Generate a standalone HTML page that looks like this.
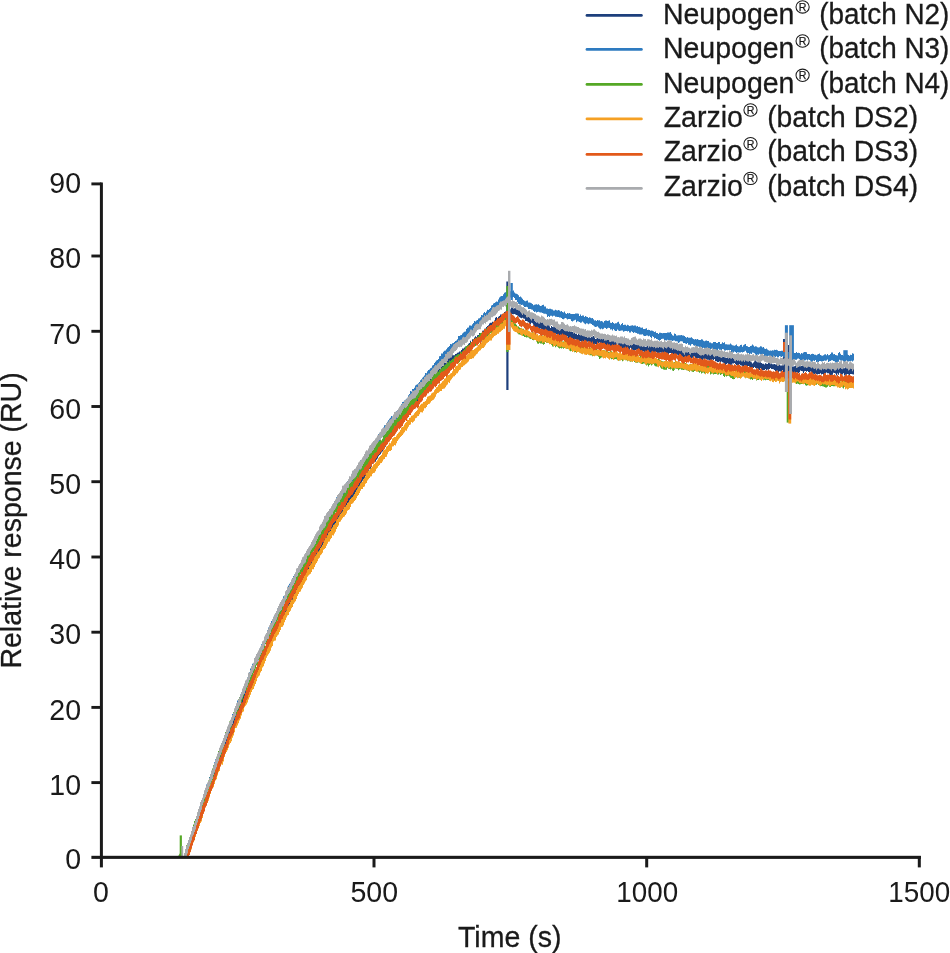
<!DOCTYPE html>
<html><head><meta charset="utf-8"><title>Chart</title>
<style>html,body{margin:0;padding:0;background:#fff;}body{width:950px;height:953px;position:relative;overflow:hidden;font-family:"Liberation Sans",sans-serif;}</style>
</head><body>
<svg width="950" height="953" viewBox="0 0 950 953" style="position:absolute;left:0;top:0;will-change:transform">
<g stroke="none">
<path fill="#1d3f7c" d="M185,855.2V855.2H186V851.8H187V846.6H188V846.2H189V841.7H190V839.4H191V836.9H192V832.6H193V829.1H194V827.4H195V824.0H196V820.0H197V817.2H198V814.1H199V811.5H200V808.6H201V805.9H202V803.1H203V800.3H204V797.7H205V794.6H206V789.8H207V788.7H208V786.4H209V783.2H210V779.5H211V776.6H212V774.3H213V772.0H214V769.0H215V766.7H216V763.8H217V761.5H218V758.7H219V756.1H220V754.8H221V750.7H222V748.2H223V744.5H224V742.0H225V739.9H226V737.9H227V734.7H228V732.5H229V730.5H230V728.0H231V726.3H232V724.1H233V719.6H234V718.2H235V715.5H236V712.6H237V710.1H238V706.9H239V706.1H240V703.5H241V700.2H242V697.3H243V695.1H244V692.9H245V690.9H246V689.5H247V687.5H248V684.9H249V683.4H250V681.0H251V678.0H252V675.1H253V674.5H254V671.3H255V670.4H256V668.0H257V665.2H258V662.8H259V659.8H260V657.2H261V655.2H262V654.7H263V651.3H264V647.0H265V646.3H266V643.8H267V643.3H268V641.3H269V638.3H270V636.3H271V634.5H272V632.3H273V631.3H274V628.5H275V626.2H276V624.4H277V621.7H278V620.6H279V618.3H280V616.3H281V614.2H282V611.4H283V608.6H284V607.3H285V606.4H286V605.0H287V602.1H288V600.0H289V598.9H290V598.0H291V595.9H292V593.2H293V589.5H294V589.4H295V587.7H296V585.5H297V582.1H298V581.5H299V578.6H300V577.6H301V576.3H302V574.5H303V571.8H304V569.5H305V567.9H306V566.6H307V564.9H308V562.0H309V560.0H310V559.1H311V557.3H312V556.5H313V554.2H314V552.8H315V549.9H316V548.2H317V546.4H318V544.0H319V542.8H320V541.6H321V538.9H322V537.0H323V535.5H324V534.4H325V532.4H326V530.5H327V529.2H328V528.0H329V527.1H330V525.2H331V523.1H332V522.1H333V520.6H334V519.3H335V517.9H336V516.3H337V513.6H338V511.7H339V510.5H340V508.7H341V507.2H342V506.5H343V504.4H344V502.6H345V500.9H346V499.5H347V497.4H348V496.0H349V496.3H350V494.3H351V492.6H352V490.4H353V488.8H354V485.8H355V483.8H356V482.7H357V481.7H358V479.5H359V478.1H360V475.7H361V474.7H362V472.2H363V470.2H364V469.4H365V467.0H366V465.9H367V464.4H368V462.4H369V461.4H370V460.6H371V459.1H372V456.6H373V455.2H374V454.0H375V453.6H376V450.9H377V450.1H378V448.9H379V446.7H380V446.3H381V444.5H382V443.1H383V441.6H384V439.9H385V437.6H386V436.9H387V435.1H388V433.7H389V431.8H390V430.8H391V428.5H392V427.2H393V425.0H394V424.9H395V422.9H396V421.4H397V421.0H398V419.1H399V417.2H400V416.6H401V414.0H402V412.9H403V411.2H404V411.1H405V409.2H406V407.4H407V405.1H408V405.1H409V403.7H410V402.8H411V401.1H412V400.9H413V396.9H414V397.2H415V396.1H416V393.2H417V392.3H418V392.4H419V390.6H420V387.3H421V386.6H422V385.0H423V383.8H424V383.5H425V384.6H426V382.3H427V380.8H428V379.6H429V379.1H430V378.3H431V375.8H432V376.1H433V374.7H434V373.8H435V372.4H436V372.3H437V370.7H438V369.4H439V368.6H440V368.0H441V366.3H442V365.7H443V364.3H444V362.9H445V362.9H446V361.5H447V360.5H448V358.0H449V357.0H450V356.7H451V355.9H452V355.0H453V355.3H454V355.3H455V353.9H456V353.8H457V352.7H458V352.4H459V351.5H460V351.6H461V350.0H462V348.6H463V348.5H464V347.6H465V346.5H466V346.1H467V345.3H468V343.8H469V343.0H470V340.8H471V342.5H472V339.3H473V339.1H474V337.5H475V336.3H476V336.9H477V335.3H478V334.9H479V333.0H480V333.8H481V333.9H482V330.7H483V330.4H484V328.8H485V328.6H486V326.9H487V325.9H488V325.2H489V323.5H490V322.8H491V322.8H492V321.7H493V322.4H494V320.4H495V317.8H496V317.1H497V317.9H498V316.8H499V316.0H500V314.6H501V314.4H502V314.9H503V314.2H504V311.9H505V311.4H506V310.5H507V310.5H508V310.2H509V309.5H510V309.2H511V307.4H512V307.4H513V307.0H514V308.2H515V307.9H516V307.7H517V308.4H518V310.0H519V309.7H520V311.4H521V311.1H522V310.7H523V311.5H524V312.8H525V313.0H526V313.1H527V314.5H528V316.6H529V317.2H530V317.2H531V316.4H532V317.1H533V318.9H534V321.1H535V321.4H536V322.4H537V320.8H538V320.3H539V320.5H540V321.1H541V322.8H542V322.2H543V323.6H544V322.7H545V323.7H546V324.0H547V324.4H548V325.3H549V326.2H550V328.0H551V326.0H552V327.0H553V327.1H554V326.1H555V326.8H556V327.4H557V328.0H558V329.4H559V328.0H560V328.7H561V329.0H562V328.6H563V329.4H564V330.4H565V329.3H566V330.2H567V329.6H568V331.5H569V330.4H570V330.7H571V331.4H572V332.0H573V333.3H574V332.4H575V333.7H576V333.7H577V334.9H578V333.9H579V334.7H580V333.7H581V334.4H582V334.3H583V335.0H584V335.0H585V334.9H586V334.9H587V336.4H588V337.1H589V336.8H590V337.8H591V337.1H592V336.6H593V336.1H594V337.3H595V339.1H596V337.8H597V337.7H598V338.4H599V338.6H600V336.8H601V337.4H602V337.8H603V337.3H604V338.6H605V338.3H606V339.3H607V339.8H608V339.2H609V339.8H610V339.8H611V339.6H612V339.5H613V338.5H614V340.8H615V341.2H616V340.9H617V340.2H618V339.9H619V341.3H620V341.6H621V340.3H622V340.9H623V341.5H624V342.1H625V342.0H626V342.7H627V342.5H628V342.6H629V341.6H630V341.3H631V342.4H632V343.8H633V343.5H634V344.1H635V344.4H636V343.2H637V342.3H638V342.8H639V343.8H640V344.9H641V345.3H642V345.8H643V344.3H644V344.2H645V346.8H646V345.7H647V345.5H648V345.6H649V344.1H650V345.8H651V346.2H652V346.8H653V346.3H654V346.4H655V346.0H656V345.5H657V345.8H658V345.4H659V345.7H660V345.8H661V345.3H662V346.0H663V345.7H664V345.2H665V345.6H666V347.5H667V345.9H668V346.3H669V346.7H670V346.1H671V346.8H672V347.4H673V346.5H674V347.2H675V348.2H676V348.1H677V348.3H678V349.7H679V348.9H680V349.1H681V349.5H682V349.8H683V351.0H684V350.9H685V350.6H686V351.4H687V351.3H688V351.8H689V350.9H690V351.4H691V352.4H692V351.9H693V352.6H694V352.2H695V352.5H696V352.0H697V351.8H698V351.8H699V352.1H700V352.3H701V352.9H702V353.0H703V352.3H704V352.4H705V351.5H706V352.0H707V353.5H708V353.9H709V353.8H710V355.4H711V354.3H712V353.4H713V353.7H714V354.6H715V354.7H716V353.6H717V354.9H718V354.5H719V356.0H720V354.6H721V355.5H722V355.4H723V356.7H724V356.8H725V357.5H726V358.0H727V357.2H728V358.3H729V357.4H730V357.2H731V357.6H732V357.4H733V357.4H734V358.1H735V357.6H736V357.6H737V358.8H738V360.2H739V359.6H740V359.8H741V360.4H742V359.1H743V358.9H744V357.4H745V358.4H746V359.5H747V358.5H748V358.5H749V359.8H750V360.7H751V362.3H752V363.4H753V362.5H754V360.5H755V359.4H756V361.4H757V362.3H758V361.8H759V362.3H760V361.7H761V362.9H762V363.7H763V363.7H764V364.4H765V363.2H766V363.7H767V363.9H768V363.0H769V361.8H770V361.6H771V363.4H772V364.2H773V364.2H774V363.9H775V364.5H776V363.7H777V364.8H778V365.3H779V364.5H780V365.4H781V365.4H782V363.5H783V365.1H784V364.4H785V365.2H786V367.3H787V366.2H788V365.7H789V366.3H790V366.3H791V365.7H792V366.5H793V366.4H794V366.2H795V365.7H796V364.9H797V364.7H798V366.6H799V366.2H800V364.6H801V365.9H802V364.9H803V366.0H804V366.1H805V365.4H806V363.7H807V365.7H808V365.6H809V366.6H810V366.1H811V366.4H812V367.1H813V366.3H814V366.6H815V366.8H816V366.7H817V368.1H818V366.7H819V367.1H820V367.0H821V367.4H822V367.5H823V368.0H824V368.8H825V367.4H826V366.1H827V366.7H828V365.9H829V367.4H830V368.0H831V368.6H832V367.3H833V365.6H834V366.6H835V366.9H836V366.2H837V365.4H838V367.1H839V367.1H840V367.4H841V368.6H842V367.7H843V367.0H844V368.2H845V367.2H846V368.1H847V367.5H848V367.6H849V367.7H850V367.0H851V367.3H852V367.4H853V366.9H854V374.4V374.4H853V374.2H852V374.0H851V373.9H850V374.9H849V374.5H848V374.1H847V374.8H846V374.7H845V375.6H844V373.2H843V374.5H842V375.2H841V373.8H840V372.7H839V374.8H838V373.5H837V375.4H836V373.4H835V373.1H834V372.8H833V374.7H832V376.2H831V375.2H830V373.9H829V373.2H828V373.3H827V372.6H826V373.5H825V374.7H824V375.1H823V374.0H822V374.6H821V373.2H820V374.0H819V374.0H818V374.6H817V374.0H816V373.4H815V373.9H814V373.8H813V373.5H812V373.3H811V371.5H810V373.2H809V372.0H808V370.9H807V371.8H806V371.1H805V371.2H804V372.9H803V371.2H802V371.0H801V370.6H800V372.3H799V372.9H798V372.5H797V372.4H796V373.0H795V373.5H794V373.6H793V374.5H792V373.4H791V372.4H790V372.5H789V371.3H788V373.2H787V373.0H786V371.6H785V372.0H784V371.9H783V369.9H782V371.0H781V371.6H780V371.2H779V372.7H778V370.8H777V371.5H776V370.9H775V370.1H774V369.2H773V369.1H772V368.9H771V368.1H770V369.0H769V369.7H768V369.4H767V370.2H766V369.0H765V370.0H764V370.1H763V370.2H762V369.7H761V367.9H760V370.1H759V369.7H758V368.6H757V368.7H756V367.9H755V367.0H754V367.9H753V368.7H752V368.6H751V368.6H750V367.4H749V365.9H748V366.5H747V366.1H746V365.7H745V365.4H744V366.3H743V366.4H742V365.6H741V365.2H740V364.2H739V365.5H738V365.3H737V365.3H736V364.1H735V363.0H734V363.6H733V363.4H732V364.7H731V365.6H730V364.0H729V364.1H728V363.3H727V363.9H726V365.0H725V363.7H724V362.7H723V362.3H722V361.5H721V362.5H720V361.5H719V362.0H718V361.9H717V361.2H716V361.0H715V359.0H714V360.1H713V359.5H712V360.3H711V361.0H710V360.5H709V359.7H708V359.7H707V359.2H706V358.7H705V359.0H704V358.8H703V360.5H702V360.3H701V360.7H700V358.8H699V358.0H698V358.5H697V358.2H696V358.9H695V356.5H694V358.2H693V357.8H692V357.9H691V358.3H690V357.9H689V357.7H688V359.0H687V358.8H686V357.8H685V357.2H684V357.1H683V356.7H682V356.1H681V356.4H680V355.5H679V356.2H678V354.8H677V355.2H676V354.9H675V354.3H674V354.4H673V355.0H672V353.4H671V353.0H670V352.9H669V354.1H668V353.7H667V353.7H666V353.1H665V353.3H664V352.8H663V352.3H662V352.7H661V352.6H660V352.7H659V353.2H658V353.5H657V352.2H656V351.9H655V352.3H654V352.4H653V352.4H652V352.6H651V352.8H650V352.3H649V352.2H648V352.1H647V351.9H646V352.7H645V352.6H644V351.4H643V351.6H642V352.1H641V351.7H640V350.4H639V349.5H638V349.5H637V349.8H636V350.3H635V350.8H634V350.2H633V349.8H632V350.6H631V347.8H630V349.8H629V349.4H628V348.9H627V348.3H626V349.4H625V349.6H624V349.0H623V348.9H622V348.2H621V347.9H620V347.3H619V346.9H618V347.0H617V346.3H616V346.5H615V346.3H614V346.2H613V345.7H612V346.8H611V346.1H610V347.1H609V346.6H608V346.5H607V345.8H606V345.2H605V344.7H604V343.9H603V344.1H602V344.1H601V344.5H600V342.6H599V343.1H598V343.9H597V344.6H596V344.2H595V343.9H594V343.9H593V344.4H592V345.1H591V344.1H590V344.2H589V343.1H588V341.8H587V342.9H586V343.5H585V342.8H584V341.5H583V341.7H582V341.8H581V341.2H580V341.4H579V340.4H578V340.7H577V340.7H576V339.4H575V339.9H574V339.5H573V338.6H572V337.9H571V337.8H570V338.4H569V338.8H568V336.5H567V337.1H566V336.6H565V337.1H564V335.5H563V334.4H562V335.3H561V334.7H560V335.6H559V334.6H558V335.1H557V334.5H556V334.0H555V333.5H554V334.4H553V333.1H552V333.3H551V333.4H550V332.0H549V332.5H548V331.8H547V330.7H546V330.4H545V330.2H544V330.7H543V330.7H542V329.1H541V328.5H540V328.9H539V327.8H538V327.4H537V328.6H536V327.2H535V326.7H534V324.8H533V323.3H532V322.8H531V324.1H530V323.3H529V322.2H528V321.5H527V320.9H526V320.9H525V318.8H524V318.6H523V317.7H522V318.3H521V317.7H520V317.2H519V316.4H518V315.5H517V314.9H516V314.4H515V313.9H514V314.3H513V314.3H512V314.7H511V314.5H510V316.1H509V315.8H508V316.2H507V318.1H506V319.3H505V320.2H504V321.5H503V322.5H502V323.2H501V323.3H500V323.4H499V323.8H498V324.1H497V324.8H496V325.7H495V328.2H494V329.8H493V328.6H492V329.8H491V330.2H490V330.7H489V333.3H488V334.1H487V335.0H486V336.4H485V336.4H484V337.9H483V338.7H482V341.5H481V339.3H480V340.5H479V342.5H478V342.0H477V344.2H476V344.2H475V345.8H474V346.0H473V347.1H472V348.9H471V349.0H470V350.3H469V351.8H468V353.7H467V353.1H466V354.1H465V355.2H464V355.7H463V355.6H462V356.9H461V358.1H460V358.7H459V360.5H458V359.6H457V360.4H456V362.2H455V362.3H454V362.8H453V364.3H452V364.1H451V363.3H450V365.4H449V367.2H448V368.3H447V368.2H446V369.7H445V369.6H444V370.8H443V371.9H442V373.8H441V375.0H440V374.5H439V376.1H438V378.1H437V378.0H436V380.7H435V382.2H434V383.5H433V382.7H432V383.6H431V386.3H430V386.3H429V387.0H428V388.9H427V389.8H426V391.9H425V391.9H424V392.7H423V393.8H422V396.1H421V395.8H420V398.1H419V400.6H418V401.8H417V404.0H416V404.2H415V404.3H414V405.5H413V407.9H412V409.5H411V411.0H410V412.6H409V412.2H408V413.8H407V414.9H406V417.7H405V419.7H404V420.3H403V421.4H402V421.5H401V423.9H400V425.2H399V426.6H398V427.2H397V429.9H396V432.4H395V434.1H394V434.2H393V435.6H392V437.3H391V438.5H390V439.7H389V441.5H388V443.7H387V444.1H386V446.7H385V448.2H384V449.4H383V451.5H382V452.4H381V454.2H380V454.9H379V456.3H378V458.5H377V459.7H376V461.8H375V461.8H374V462.6H373V463.8H372V466.7H371V469.0H370V469.2H369V471.1H368V474.0H367V474.8H366V476.0H365V478.5H364V479.6H363V480.8H362V483.2H361V484.8H360V486.3H359V488.1H358V488.8H357V490.7H356V492.6H355V494.2H354V496.1H353V498.1H352V499.8H351V501.9H350V501.6H349V504.7H348V504.9H347V507.2H346V509.1H345V510.4H344V512.6H343V514.1H342V515.6H341V517.5H340V517.9H339V519.7H338V522.0H337V525.9H336V526.9H335V527.0H334V527.9H333V530.0H332V530.8H331V535.2H330V534.9H329V535.1H328V537.9H327V538.5H326V541.0H325V543.3H324V544.6H323V546.3H322V547.8H321V549.7H320V551.4H319V553.1H318V555.3H317V557.8H316V559.4H315V560.9H314V562.5H313V563.9H312V565.7H311V568.5H310V568.2H309V570.7H308V573.8H307V574.4H306V577.2H305V579.4H304V580.8H303V581.9H302V583.9H301V585.7H300V586.6H299V590.0H298V591.9H297V594.8H296V595.6H295V597.7H294V598.7H293V601.1H292V603.5H291V604.8H290V607.0H289V608.7H288V610.1H287V612.4H286V614.6H285V616.4H284V617.6H283V620.2H282V622.4H281V624.8H280V626.8H279V629.1H278V631.4H277V633.0H276V634.9H275V636.4H274V639.2H273V642.5H272V643.6H271V645.4H270V648.0H269V650.5H268V652.3H267V653.1H266V654.3H265V657.4H264V659.7H263V662.4H262V663.2H261V665.9H260V668.7H259V669.5H258V673.8H257V675.0H256V677.9H255V679.9H254V683.1H253V685.5H252V686.4H251V688.6H250V691.9H249V694.2H248V695.8H247V697.3H246V700.1H245V702.4H244V704.8H243V706.7H242V709.6H241V712.0H240V714.5H239V717.5H238V719.8H237V722.1H236V723.7H235V726.4H234V729.0H233V732.1H232V735.0H231V737.4H230V740.1H229V742.0H228V743.9H227V747.4H226V748.8H225V750.7H224V754.7H223V756.3H222V760.0H221V764.0H220V765.4H219V767.6H218V770.2H217V775.3H216V776.9H215V779.4H214V781.3H213V784.1H212V787.2H211V788.5H210V792.2H209V795.4H208V797.4H207V800.0H206V803.1H205V806.0H204V808.0H203V811.1H202V815.6H201V817.7H200V820.7H199V824.1H198V827.3H197V830.0H196V833.5H195V836.1H194V839.4H193V842.7H192V846.4H191V848.4H190V851.9H189V855.3H188V857.0H187V857.0H186V857.0H185Z"/>
<rect x="506.3" y="281.5" width="2.2" height="108.5" fill="#1d3f7c"/>
<rect x="783.0" y="339" width="2.0" height="33.0" fill="#1d3f7c"/>
<rect x="787.8" y="345" width="1.4" height="27.0" fill="#1d3f7c"/>
<path fill="#2e7bc0" d="M184,854.9V854.9H185V851.2H186V848.6H187V844.2H188V842.1H189V837.1H190V835.2H191V831.8H192V828.5H193V825.1H194V822.1H195V819.5H196V816.6H197V812.9H198V809.6H199V806.8H200V803.2H201V801.2H202V797.9H203V794.6H204V790.9H205V788.9H206V784.4H207V783.9H208V781.3H209V777.1H210V774.2H211V772.7H212V769.4H213V765.6H214V762.3H215V759.2H216V757.9H217V755.3H218V752.0H219V749.9H220V746.7H221V743.7H222V741.2H223V738.9H224V736.8H225V732.9H226V730.2H227V728.7H228V727.0H229V722.8H230V721.4H231V719.0H232V714.1H233V712.7H234V708.7H235V707.1H236V703.9H237V700.6H238V700.2H239V697.3H240V694.5H241V692.5H242V690.0H243V687.2H244V684.3H245V682.8H246V680.1H247V677.6H248V674.5H249V672.2H250V668.5H251V666.6H252V663.8H253V663.5H254V660.1H255V658.0H256V655.6H257V653.8H258V651.5H259V648.7H260V648.1H261V644.3H262V642.5H263V642.6H264V638.0H265V636.3H266V633.3H267V630.2H268V627.5H269V626.8H270V623.4H271V621.1H272V619.6H273V616.8H274V615.2H275V613.2H276V610.9H277V608.4H278V606.3H279V605.2H280V602.2H281V601.8H282V599.6H283V596.3H284V596.1H285V592.5H286V589.9H287V588.9H288V585.6H289V583.8H290V582.5H291V580.3H292V578.0H293V576.1H294V574.5H295V573.1H296V570.5H297V568.1H298V567.3H299V565.2H300V563.0H301V562.0H302V558.8H303V557.4H304V555.9H305V553.8H306V551.9H307V550.6H308V549.2H309V548.0H310V545.6H311V543.6H312V542.2H313V538.9H314V538.1H315V535.6H316V534.5H317V533.0H318V531.5H319V528.9H320V526.9H321V524.9H322V523.8H323V521.6H324V519.6H325V517.2H326V515.0H327V511.9H328V512.0H329V511.2H330V509.2H331V508.9H332V506.1H333V504.2H334V501.3H335V500.0H336V497.3H337V494.9H338V494.7H339V495.3H340V492.7H341V491.5H342V488.8H343V487.9H344V486.2H345V484.1H346V482.2H347V480.9H348V479.7H349V478.5H350V477.7H351V474.4H352V472.0H353V471.0H354V469.6H355V469.3H356V468.0H357V465.2H358V465.2H359V462.6H360V460.2H361V460.2H362V458.9H363V456.8H364V454.2H365V453.8H366V452.4H367V451.1H368V450.4H369V448.5H370V447.8H371V446.5H372V444.6H373V444.3H374V442.0H375V440.5H376V438.6H377V436.0H378V433.9H379V432.7H380V432.1H381V430.6H382V429.9H383V427.5H384V425.3H385V425.0H386V423.9H387V421.7H388V420.2H389V418.8H390V417.7H391V415.9H392V416.4H393V415.9H394V414.2H395V412.8H396V411.3H397V410.2H398V409.6H399V407.7H400V405.7H401V404.3H402V402.1H403V401.8H404V400.5H405V399.7H406V398.8H407V398.1H408V395.2H409V393.9H410V391.1H411V391.4H412V389.1H413V389.1H414V387.7H415V385.4H416V384.8H417V384.3H418V383.2H419V382.1H420V380.3H421V379.3H422V377.7H423V376.7H424V375.4H425V373.0H426V373.3H427V371.3H428V369.9H429V369.6H430V368.3H431V367.7H432V365.4H433V364.9H434V362.9H435V361.7H436V360.5H437V359.9H438V359.0H439V356.3H440V356.1H441V353.5H442V353.5H443V351.7H444V350.7H445V350.6H446V349.3H447V347.8H448V347.1H449V345.9H450V343.9H451V344.2H452V343.2H453V343.0H454V341.9H455V341.0H456V340.4H457V339.2H458V336.0H459V336.1H460V335.2H461V335.0H462V333.6H463V332.5H464V331.7H465V331.5H466V329.1H467V327.8H468V327.5H469V325.5H470V325.5H471V325.8H472V324.2H473V322.9H474V321.1H475V321.4H476V320.5H477V320.1H478V318.4H479V318.2H480V317.2H481V315.0H482V315.3H483V313.2H484V312.0H485V312.9H486V311.4H487V309.8H488V309.9H489V309.0H490V308.1H491V305.6H492V305.0H493V303.5H494V303.0H495V302.3H496V301.6H497V301.7H498V299.4H499V297.5H500V296.5H501V296.0H502V296.0H503V294.2H504V292.7H505V292.2H506V291.6H507V291.1H508V291.0H509V290.4H510V291.2H511V291.7H512V291.2H513V290.5H514V292.6H515V293.4H516V293.8H517V294.2H518V295.2H519V297.1H520V296.5H521V297.4H522V298.8H523V299.9H524V300.8H525V301.3H526V300.8H527V300.4H528V302.4H529V302.5H530V302.7H531V303.3H532V303.9H533V305.3H534V304.8H535V304.5H536V304.3H537V304.8H538V304.3H539V305.3H540V305.9H541V305.8H542V305.1H543V304.8H544V306.6H545V306.4H546V308.6H547V308.5H548V309.0H549V308.7H550V308.8H551V309.2H552V309.4H553V310.5H554V310.6H555V309.7H556V310.3H557V310.5H558V309.9H559V310.5H560V311.5H561V311.1H562V312.1H563V312.4H564V311.4H565V313.3H566V313.9H567V313.0H568V313.5H569V313.1H570V313.7H571V314.0H572V314.1H573V314.1H574V313.9H575V313.4H576V313.4H577V313.5H578V313.7H579V315.9H580V314.5H581V315.9H582V315.6H583V315.5H584V317.0H585V315.9H586V316.7H587V317.1H588V318.0H589V317.2H590V317.7H591V318.2H592V318.0H593V319.2H594V320.4H595V320.2H596V321.0H597V320.0H598V320.5H599V320.3H600V321.3H601V320.9H602V321.6H603V322.5H604V321.0H605V320.5H606V320.6H607V320.9H608V320.7H609V320.3H610V322.8H611V322.9H612V322.1H613V323.1H614V323.8H615V323.2H616V323.2H617V322.2H618V321.8H619V323.7H620V325.2H621V323.9H622V323.0H623V324.9H624V324.8H625V324.8H626V325.8H627V324.8H628V325.2H629V326.0H630V325.7H631V325.6H632V325.3H633V325.7H634V325.4H635V325.5H636V326.4H637V325.9H638V327.0H639V326.8H640V327.5H641V327.7H642V327.5H643V329.0H644V329.0H645V328.8H646V328.2H647V329.9H648V329.7H649V329.9H650V330.8H651V330.6H652V330.8H653V331.2H654V332.1H655V331.5H656V332.9H657V333.0H658V333.9H659V332.7H660V332.7H661V333.1H662V333.2H663V333.0H664V333.1H665V333.0H666V333.0H667V332.4H668V332.6H669V332.4H670V332.1H671V333.7H672V335.2H673V335.7H674V333.5H675V334.0H676V335.5H677V335.4H678V335.3H679V335.2H680V335.2H681V334.9H682V335.5H683V335.5H684V336.0H685V337.1H686V337.8H687V337.0H688V337.7H689V337.8H690V337.7H691V337.3H692V338.2H693V338.9H694V339.5H695V339.1H696V339.6H697V339.0H698V339.8H699V340.0H700V340.0H701V339.3H702V339.5H703V340.8H704V341.2H705V340.7H706V340.5H707V341.0H708V341.0H709V342.4H710V342.6H711V343.2H712V343.2H713V342.0H714V341.9H715V341.9H716V342.9H717V343.1H718V342.0H719V341.9H720V344.0H721V343.7H722V342.3H723V343.0H724V342.3H725V344.2H726V344.2H727V344.5H728V344.5H729V344.5H730V343.6H731V344.4H732V345.3H733V345.4H734V345.7H735V345.2H736V344.6H737V346.0H738V346.6H739V346.3H740V345.0H741V344.7H742V346.7H743V345.3H744V344.6H745V344.1H746V346.1H747V346.2H748V346.9H749V346.9H750V345.9H751V345.7H752V344.5H753V345.5H754V346.8H755V346.3H756V346.5H757V347.2H758V347.6H759V347.3H760V346.3H761V346.5H762V347.4H763V346.9H764V348.6H765V349.0H766V348.5H767V349.4H768V350.3H769V350.8H770V350.6H771V350.7H772V350.2H773V350.6H774V349.8H775V350.1H776V349.7H777V350.2H778V351.0H779V351.0H780V351.0H781V350.8H782V350.7H783V350.7H784V352.0H785V351.8H786V351.2H787V351.3H788V351.9H789V351.6H790V352.3H791V352.3H792V352.7H793V352.6H794V353.1H795V353.0H796V352.1H797V353.0H798V352.7H799V352.9H800V354.3H801V353.0H802V353.5H803V352.5H804V352.1H805V351.9H806V352.3H807V354.0H808V354.0H809V353.9H810V354.7H811V354.0H812V353.7H813V353.9H814V354.7H815V354.7H816V355.3H817V354.4H818V354.1H819V353.4H820V355.1H821V355.4H822V355.8H823V355.2H824V354.5H825V354.2H826V355.2H827V354.1H828V355.3H829V355.0H830V354.0H831V352.4H832V352.4H833V354.2H834V354.0H835V355.0H836V355.3H837V355.6H838V353.0H839V352.1H840V353.8H841V355.0H842V355.0H843V355.7H844V355.3H845V354.0H846V355.3H847V354.6H848V355.1H849V355.8H850V354.8H851V354.9H852V353.3H853V353.8H854V360.5V360.5H853V361.4H852V360.8H851V361.3H850V361.3H849V361.4H848V361.1H847V360.6H846V361.4H845V362.4H844V361.9H843V360.6H842V360.7H841V360.4H840V359.7H839V361.7H838V362.5H837V362.3H836V362.4H835V361.2H834V360.9H833V360.2H832V360.3H831V361.0H830V361.3H829V361.9H828V359.6H827V360.4H826V360.8H825V360.6H824V361.0H823V361.3H822V361.6H821V360.9H820V361.1H819V362.1H818V362.0H817V362.0H816V360.1H815V361.0H814V360.5H813V360.9H812V361.7H811V360.7H810V360.1H809V359.5H808V360.4H807V359.5H806V360.2H805V360.4H804V359.8H803V360.7H802V360.1H801V360.7H800V359.2H799V358.6H798V358.7H797V359.8H796V359.8H795V360.4H794V360.8H793V357.4H792V358.5H791V359.5H790V358.7H789V358.0H788V358.2H787V358.2H786V358.5H785V357.5H784V357.2H783V356.3H782V357.1H781V356.5H780V356.1H779V357.2H778V357.2H777V356.3H776V357.3H775V356.5H774V358.1H773V358.6H772V357.6H771V356.8H770V356.7H769V355.8H768V356.7H767V356.0H766V356.4H765V356.1H764V353.9H763V354.0H762V354.5H761V354.6H760V353.7H759V354.8H758V354.5H757V354.9H756V354.6H755V353.3H754V352.8H753V352.6H752V353.9H751V353.5H750V353.9H749V353.0H748V353.0H747V352.5H746V350.7H745V351.6H744V352.0H743V352.6H742V351.9H741V352.6H740V352.5H739V352.5H738V352.3H737V352.9H736V351.9H735V351.5H734V352.4H733V352.5H732V352.0H731V350.0H730V350.2H729V349.9H728V350.2H727V350.1H726V350.6H725V350.5H724V349.2H723V349.1H722V350.5H721V349.7H720V349.8H719V348.8H718V350.7H717V350.2H716V349.5H715V349.4H714V349.2H713V349.1H712V348.7H711V348.9H710V348.8H709V348.3H708V347.7H707V348.0H706V348.9H705V349.0H704V347.7H703V348.5H702V347.1H701V346.9H700V347.5H699V346.6H698V346.4H697V346.0H696V345.7H695V345.7H694V345.3H693V344.1H692V344.3H691V345.8H690V344.8H689V344.8H688V343.0H687V344.0H686V343.5H685V343.0H684V343.1H683V341.4H682V341.3H681V341.2H680V342.2H679V342.9H678V341.4H677V341.3H676V341.3H675V340.4H674V340.6H673V340.9H672V340.5H671V340.5H670V340.2H669V340.2H668V339.8H667V340.5H666V340.2H665V340.0H664V338.7H663V338.8H662V338.9H661V339.9H660V340.8H659V340.0H658V339.2H657V339.0H656V338.1H655V338.4H654V337.0H653V336.3H652V338.0H651V336.9H650V335.7H649V336.2H648V335.6H647V335.6H646V336.0H645V336.1H644V335.4H643V334.2H642V334.6H641V334.6H640V334.4H639V333.8H638V333.8H637V332.9H636V332.7H635V332.3H634V332.9H633V332.1H632V331.3H631V332.6H630V332.4H629V331.0H628V331.4H627V331.0H626V331.0H625V331.2H624V331.8H623V330.6H622V330.6H621V330.8H620V330.9H619V330.4H618V329.5H617V330.9H616V330.9H615V330.3H614V328.9H613V330.6H612V329.2H611V329.4H610V328.0H609V327.8H608V328.3H607V329.0H606V328.0H605V327.7H604V328.8H603V329.3H602V328.6H601V329.2H600V328.4H599V327.6H598V326.3H597V326.8H596V327.1H595V326.6H594V325.6H593V324.9H592V324.1H591V323.5H590V323.4H589V324.3H588V323.4H587V323.2H586V324.3H585V323.6H584V322.4H583V321.6H582V322.5H581V322.8H580V322.1H579V321.5H578V321.2H577V322.2H576V319.7H575V320.3H574V320.7H573V321.4H572V320.9H571V319.3H570V318.9H569V318.9H568V319.5H567V318.5H566V318.1H565V318.6H564V319.2H563V319.0H562V318.1H561V317.5H560V317.5H559V317.0H558V317.0H557V316.7H556V316.7H555V315.7H554V315.7H553V316.4H552V315.7H551V315.7H550V317.1H549V316.0H548V317.1H547V314.3H546V313.7H545V313.7H544V313.5H543V312.9H542V312.6H541V312.4H540V312.2H539V311.8H538V311.9H537V312.4H536V311.6H535V312.0H534V310.9H533V309.7H532V309.5H531V308.9H530V309.1H529V309.1H528V307.3H527V306.8H526V307.1H525V307.0H524V305.8H523V304.8H522V305.1H521V304.4H520V304.3H519V303.7H518V301.9H517V299.9H516V300.0H515V298.0H514V296.9H513V297.4H512V297.4H511V297.4H510V297.8H509V297.8H508V298.3H507V299.4H506V300.9H505V301.2H504V301.9H503V302.9H502V303.0H501V304.5H500V306.3H499V307.7H498V306.7H497V308.4H496V309.3H495V311.0H494V311.5H493V312.5H492V314.8H491V316.0H490V317.3H489V317.4H488V317.1H487V317.2H486V319.0H485V318.7H484V320.4H483V321.3H482V321.7H481V324.0H480V325.2H479V326.0H478V327.0H477V327.4H476V329.0H475V329.7H474V331.3H473V333.1H472V333.2H471V333.4H470V334.3H469V336.5H468V336.8H467V337.3H466V338.4H465V338.6H464V340.4H463V340.7H462V342.6H461V343.0H460V344.6H459V345.4H458V346.7H457V348.1H456V349.4H455V349.7H454V350.7H453V352.4H452V352.7H451V352.6H450V353.1H449V354.0H448V355.1H447V357.7H446V358.4H445V358.9H444V359.6H443V361.9H442V361.8H441V364.1H440V366.1H439V368.1H438V368.2H437V369.2H436V371.1H435V372.2H434V372.4H433V374.5H432V375.0H431V375.6H430V376.0H429V377.4H428V378.3H427V379.7H426V380.9H425V383.6H424V383.4H423V384.1H422V387.2H421V387.5H420V389.6H419V389.5H418V391.0H417V393.0H416V393.8H415V394.0H414V396.3H413V398.4H412V400.5H411V399.8H410V402.3H409V402.5H408V402.9H407V405.2H406V405.9H405V408.2H404V409.5H403V409.0H402V411.7H401V413.6H400V415.2H399V417.2H398V418.5H397V419.6H396V420.2H395V421.4H394V422.9H393V423.6H392V424.5H391V426.7H390V428.7H389V429.6H388V430.1H387V431.6H386V432.6H385V434.5H384V436.3H383V437.0H382V437.3H381V440.5H380V441.0H379V443.4H378V445.2H377V446.8H376V447.2H375V449.5H374V451.9H373V453.6H372V454.7H371V455.3H370V455.8H369V457.9H368V458.7H367V460.0H366V462.2H365V463.8H364V465.0H363V466.5H362V468.6H361V469.2H360V470.7H359V472.7H358V474.3H357V475.5H356V478.0H355V478.3H354V480.0H353V481.5H352V482.7H351V483.7H350V485.9H349V487.0H348V488.8H347V491.3H346V492.9H345V494.5H344V497.6H343V497.8H342V498.6H341V501.0H340V502.3H339V503.3H338V504.2H337V505.1H336V508.1H335V510.2H334V512.1H333V515.0H332V516.0H331V517.9H330V519.4H329V520.0H328V520.9H327V524.2H326V525.8H325V527.3H324V529.5H323V532.3H322V534.7H321V535.0H320V537.0H319V539.1H318V541.1H317V542.8H316V544.6H315V546.7H314V547.2H313V548.9H312V550.9H311V553.6H310V554.7H309V557.0H308V558.5H307V559.6H306V561.7H305V565.3H304V566.4H303V567.6H302V569.3H301V571.0H300V574.2H299V574.6H298V577.0H297V579.0H296V579.8H295V582.6H294V586.1H293V586.9H292V588.6H291V590.6H290V592.2H289V594.4H288V597.1H287V599.2H286V600.7H285V604.5H284V604.8H283V607.0H282V609.7H281V611.6H280V613.3H279V615.9H278V617.0H277V618.9H276V623.0H275V624.4H274V625.8H273V628.1H272V630.0H271V633.8H270V634.5H269V636.1H268V639.7H267V641.1H266V644.0H265V647.0H264V650.0H263V650.4H262V652.9H261V656.3H260V656.8H259V660.4H258V661.6H257V665.2H256V667.8H255V669.4H254V672.0H253V673.0H252V676.6H251V678.7H250V682.2H249V683.0H248V686.7H247V688.4H246V691.4H245V693.6H244V696.3H243V698.9H242V700.8H241V703.3H240V706.2H239V708.9H238V711.2H237V714.7H236V716.4H235V719.0H234V720.6H233V724.1H232V727.0H231V729.6H230V731.8H229V735.0H228V736.7H227V739.6H226V742.2H225V744.2H224V749.3H223V751.1H222V753.6H221V755.9H220V758.3H219V761.1H218V764.4H217V766.9H216V770.5H215V772.7H214V775.6H213V777.7H212V780.1H211V783.7H210V787.2H209V789.4H208V792.7H207V795.8H206V799.2H205V801.6H204V804.3H203V807.7H202V811.2H201V813.3H200V816.3H199V820.5H198V821.6H197V826.2H196V828.7H195V831.0H194V835.4H193V838.9H192V839.8H191V844.0H190V847.7H189V852.0H188V854.9H187V857.0H186V857.0H185V857.0H184Z"/>
<rect x="510.4" y="283" width="2.4" height="17.0" fill="#2e7bc0"/>
<rect x="784.9" y="325.2" width="3.0" height="36.8" fill="#2e7bc0"/>
<rect x="789.2" y="325.2" width="4.7" height="36.8" fill="#2e7bc0"/>
<rect x="843.3" y="350.2" width="4.4" height="9.8" fill="#2e7bc0"/>
<path fill="#55a826" d="M184,853.6V853.6H185V849.7H186V845.3H187V843.0H188V840.5H189V837.1H190V835.0H191V831.8H192V828.0H193V824.5H194V820.9H195V819.2H196V816.0H197V812.7H198V810.8H199V806.9H200V803.0H201V800.7H202V798.6H203V794.6H204V791.6H205V789.9H206V787.4H207V784.7H208V780.6H209V777.7H210V774.7H211V772.4H212V768.6H213V765.4H214V763.8H215V760.9H216V756.7H217V754.2H218V751.1H219V748.6H220V745.8H221V743.4H222V741.6H223V738.9H224V734.9H225V732.0H226V731.3H227V728.7H228V725.6H229V721.5H230V721.0H231V718.5H232V715.4H233V712.3H234V710.0H235V707.8H236V705.3H237V703.1H238V699.3H239V697.3H240V696.0H241V693.9H242V690.7H243V687.9H244V684.9H245V681.6H246V680.4H247V678.3H248V675.9H249V673.3H250V671.6H251V669.1H252V667.2H253V663.3H254V662.8H255V659.7H256V657.0H257V653.7H258V652.4H259V650.9H260V650.1H261V646.5H262V644.1H263V642.4H264V639.8H265V635.9H266V635.1H267V632.5H268V631.0H269V629.0H270V625.4H271V622.9H272V622.7H273V621.2H274V620.0H275V616.4H276V613.8H277V611.8H278V609.6H279V607.9H280V605.6H281V604.1H282V603.3H283V601.3H284V598.4H285V597.2H286V595.2H287V593.3H288V590.1H289V589.4H290V588.1H291V585.3H292V584.8H293V580.8H294V578.8H295V576.9H296V575.4H297V573.0H298V571.3H299V568.7H300V567.0H301V565.2H302V564.0H303V561.7H304V559.5H305V558.4H306V556.8H307V554.3H308V552.4H309V550.3H310V548.0H311V546.3H312V544.0H313V543.5H314V542.3H315V540.0H316V537.6H317V536.5H318V534.2H319V534.0H320V533.4H321V528.9H322V528.5H323V526.3H324V525.2H325V522.9H326V520.7H327V519.3H328V517.2H329V515.2H330V514.0H331V512.6H332V512.0H333V509.6H334V507.9H335V505.2H336V505.0H337V504.1H338V502.5H339V498.9H340V497.9H341V497.1H342V495.0H343V494.1H344V491.4H345V490.2H346V489.0H347V486.6H348V486.2H349V483.2H350V482.5H351V481.6H352V481.3H353V478.9H354V477.3H355V475.3H356V474.4H357V472.6H358V471.3H359V469.9H360V468.0H361V468.1H362V464.8H363V462.8H364V461.4H365V459.7H366V459.3H367V457.9H368V456.9H369V454.5H370V452.9H371V451.4H372V449.0H373V448.3H374V446.8H375V446.0H376V443.5H377V442.5H378V442.1H379V441.0H380V439.7H381V440.4H382V438.8H383V436.0H384V434.0H385V433.2H386V432.1H387V430.4H388V429.5H389V428.5H390V426.8H391V424.2H392V422.7H393V422.2H394V420.3H395V418.8H396V419.2H397V417.4H398V415.8H399V414.5H400V413.8H401V411.9H402V410.3H403V409.1H404V408.1H405V406.5H406V405.6H407V404.6H408V402.9H409V400.7H410V399.9H411V399.7H412V398.5H413V398.6H414V396.7H415V395.6H416V394.5H417V392.6H418V392.2H419V390.3H420V388.8H421V387.8H422V387.7H423V385.8H424V383.9H425V383.3H426V383.4H427V381.6H428V381.3H429V380.2H430V380.0H431V377.6H432V376.9H433V375.5H434V373.7H435V372.0H436V372.3H437V371.2H438V371.7H439V370.0H440V369.3H441V368.2H442V367.1H443V366.6H444V365.2H445V364.5H446V364.1H447V362.0H448V362.4H449V360.6H450V360.9H451V360.0H452V358.9H453V358.4H454V356.8H455V355.7H456V355.2H457V354.6H458V353.9H459V354.2H460V352.0H461V352.0H462V351.5H463V350.0H464V349.2H465V347.0H466V345.9H467V345.7H468V344.7H469V344.7H470V342.6H471V342.3H472V341.4H473V339.1H474V338.8H475V338.7H476V337.5H477V337.0H478V336.1H479V334.3H480V333.0H481V332.7H482V333.7H483V331.7H484V331.7H485V330.8H486V328.3H487V327.6H488V326.9H489V327.6H490V326.5H491V325.1H492V325.0H493V325.4H494V324.9H495V323.8H496V323.3H497V322.6H498V322.2H499V321.1H500V320.3H501V319.1H502V317.3H503V316.2H504V316.5H505V317.6H506V316.1H507V313.5H508V315.1H509V315.6H510V317.6H511V319.2H512V320.1H513V320.6H514V323.2H515V323.9H516V324.7H517V326.5H518V326.4H519V327.5H520V328.1H521V328.9H522V328.8H523V328.7H524V330.0H525V330.8H526V330.6H527V331.4H528V330.8H529V332.0H530V333.4H531V332.9H532V332.2H533V333.2H534V333.6H535V334.9H536V335.3H537V336.4H538V337.0H539V336.8H540V337.2H541V335.5H542V335.6H543V336.6H544V337.2H545V336.5H546V336.1H547V336.8H548V336.5H549V336.6H550V336.7H551V338.9H552V338.7H553V338.9H554V339.1H555V339.1H556V339.7H557V339.0H558V339.8H559V340.5H560V341.4H561V341.6H562V341.6H563V341.6H564V341.5H565V340.8H566V340.9H567V342.5H568V342.2H569V343.2H570V344.3H571V343.9H572V343.9H573V343.1H574V345.2H575V345.2H576V343.9H577V344.2H578V344.9H579V344.5H580V345.5H581V345.7H582V346.5H583V347.1H584V345.8H585V345.4H586V346.8H587V346.7H588V348.6H589V347.4H590V347.8H591V348.6H592V348.3H593V349.8H594V348.6H595V347.5H596V348.6H597V349.9H598V350.3H599V350.8H600V350.2H601V349.8H602V350.7H603V350.1H604V350.5H605V350.5H606V348.6H607V350.4H608V351.8H609V351.8H610V351.0H611V351.2H612V352.6H613V352.9H614V353.3H615V352.3H616V352.7H617V354.0H618V353.7H619V354.7H620V353.8H621V354.1H622V353.5H623V353.1H624V352.5H625V354.4H626V354.3H627V353.5H628V353.4H629V354.2H630V354.8H631V354.6H632V355.4H633V355.2H634V356.0H635V355.0H636V355.6H637V355.5H638V355.4H639V356.8H640V355.7H641V356.8H642V356.7H643V357.7H644V358.0H645V357.1H646V358.0H647V357.2H648V357.3H649V356.7H650V357.8H651V358.6H652V357.8H653V358.0H654V359.1H655V360.7H656V360.4H657V359.6H658V358.9H659V359.4H660V360.4H661V360.7H662V361.3H663V361.4H664V362.2H665V362.4H666V361.4H667V362.4H668V362.8H669V362.5H670V362.6H671V362.8H672V362.2H673V362.4H674V362.1H675V360.5H676V362.0H677V361.8H678V362.9H679V362.8H680V362.8H681V363.5H682V362.8H683V363.0H684V362.2H685V363.0H686V363.8H687V364.7H688V364.7H689V364.8H690V364.0H691V364.3H692V363.8H693V365.1H694V364.9H695V364.6H696V365.6H697V365.3H698V365.0H699V366.2H700V367.0H701V366.3H702V366.0H703V366.2H704V366.9H705V366.9H706V367.5H707V365.6H708V366.1H709V365.8H710V366.2H711V365.9H712V367.0H713V366.1H714V366.7H715V366.4H716V367.8H717V367.6H718V367.7H719V367.5H720V368.0H721V368.8H722V368.5H723V368.8H724V368.8H725V368.9H726V370.6H727V370.4H728V370.6H729V371.1H730V372.2H731V371.9H732V371.6H733V371.1H734V372.4H735V371.4H736V370.1H737V370.9H738V370.3H739V370.9H740V371.6H741V371.8H742V370.7H743V369.3H744V370.8H745V370.6H746V369.2H747V370.6H748V370.5H749V370.7H750V373.0H751V372.7H752V373.4H753V372.6H754V371.1H755V372.9H756V373.1H757V373.3H758V373.2H759V372.7H760V372.2H761V372.5H762V372.7H763V373.8H764V372.2H765V373.6H766V372.9H767V374.6H768V374.0H769V374.1H770V374.2H771V373.8H772V373.7H773V374.2H774V374.7H775V372.4H776V372.4H777V372.4H778V373.5H779V373.7H780V374.4H781V374.2H782V375.7H783V374.0H784V375.0H785V374.2H786V374.3H787V373.7H788V375.8H789V374.7H790V375.3H791V375.0H792V374.6H793V377.2H794V376.2H795V375.6H796V376.7H797V376.5H798V376.4H799V377.9H800V376.7H801V377.2H802V376.6H803V376.4H804V379.1H805V378.1H806V377.1H807V377.0H808V376.7H809V377.7H810V378.0H811V377.3H812V378.5H813V377.4H814V376.6H815V378.6H816V379.0H817V377.7H818V378.1H819V379.0H820V378.9H821V379.4H822V379.2H823V378.3H824V378.9H825V379.9H826V381.2H827V380.1H828V380.5H829V380.1H830V380.8H831V379.7H832V379.9H833V379.2H834V378.5H835V380.3H836V380.6H837V378.9H838V380.3H839V380.5H840V381.5H841V380.1H842V380.0H843V380.6H844V379.9H845V379.7H846V380.8H847V380.7H848V380.4H849V379.4H850V380.4H851V381.2H852V381.1H853V380.4H854V387.6V387.6H853V387.6H852V387.0H851V386.9H850V387.8H849V388.4H848V388.8H847V387.4H846V387.5H845V387.0H844V388.5H843V387.5H842V386.6H841V387.4H840V387.7H839V386.9H838V386.5H837V385.6H836V385.6H835V386.2H834V386.3H833V385.9H832V386.0H831V386.9H830V386.8H829V385.6H828V386.8H827V387.4H826V387.4H825V387.0H824V386.6H823V386.3H822V385.9H821V386.3H820V384.9H819V385.0H818V383.8H817V384.8H816V384.6H815V384.4H814V383.4H813V383.6H812V384.0H811V383.8H810V384.5H809V384.6H808V385.2H807V385.7H806V385.2H805V383.8H804V384.0H803V383.9H802V383.9H801V384.3H800V384.4H799V384.1H798V383.4H797V384.1H796V382.2H795V382.2H794V381.5H793V381.9H792V382.8H791V382.6H790V381.1H789V383.6H788V381.2H787V381.9H786V380.5H785V381.2H784V380.3H783V381.4H782V380.4H781V380.4H780V381.4H779V381.1H778V380.1H777V379.9H776V380.3H775V380.7H774V381.0H773V380.1H772V379.7H771V380.3H770V380.2H769V380.1H768V380.0H767V379.7H766V380.3H765V379.8H764V380.3H763V378.4H762V379.5H761V378.5H760V378.6H759V379.9H758V380.1H757V380.5H756V378.7H755V378.8H754V378.7H753V380.1H752V378.9H751V379.5H750V378.5H749V378.3H748V378.0H747V377.4H746V378.2H745V376.9H744V376.0H743V376.0H742V377.6H741V377.9H740V377.8H739V377.6H738V377.8H737V377.2H736V377.5H735V378.9H734V379.2H733V378.9H732V378.1H731V377.7H730V376.5H729V375.8H728V376.1H727V376.4H726V375.5H725V377.1H724V375.9H723V374.1H722V374.3H721V375.0H720V373.6H719V374.4H718V374.5H717V373.8H716V373.9H715V374.1H714V374.5H713V373.6H712V373.8H711V374.5H710V371.9H709V372.5H708V373.4H707V373.0H706V373.5H705V373.5H704V372.5H703V372.7H702V373.4H701V371.8H700V372.8H699V371.7H698V370.5H697V371.1H696V371.0H695V371.1H694V372.1H693V371.8H692V371.2H691V370.2H690V371.8H689V371.1H688V370.3H687V370.3H686V369.5H685V369.5H684V370.1H683V369.8H682V369.8H681V368.8H680V369.2H679V370.3H678V368.9H677V368.8H676V368.4H675V369.7H674V370.9H673V370.4H672V368.7H671V369.6H670V369.1H669V368.8H668V367.8H667V369.7H666V369.7H665V369.7H664V369.4H663V368.7H662V368.7H661V367.6H660V365.4H659V366.5H658V366.4H657V366.6H656V366.3H655V365.6H654V364.1H653V364.5H652V365.6H651V364.3H650V365.1H649V366.5H648V364.8H647V365.4H646V364.2H645V363.6H644V363.6H643V364.0H642V364.0H641V362.3H640V362.6H639V362.2H638V362.8H637V362.7H636V362.4H635V362.0H634V360.6H633V361.4H632V361.6H631V361.7H630V361.3H629V360.6H628V361.2H627V360.3H626V360.3H625V359.5H624V360.2H623V361.2H622V360.1H621V359.0H620V360.4H619V360.7H618V360.2H617V359.3H616V359.1H615V359.2H614V359.4H613V359.1H612V359.2H611V358.3H610V358.5H609V357.5H608V357.6H607V356.8H606V356.0H605V355.4H604V355.8H603V356.7H602V357.5H601V358.2H600V359.1H599V356.7H598V355.7H597V355.2H596V355.2H595V355.9H594V355.7H593V356.3H592V355.3H591V355.2H590V353.9H589V354.5H588V354.0H587V354.7H586V353.9H585V352.9H584V352.6H583V352.5H582V353.6H581V352.9H580V352.5H579V351.6H578V351.3H577V351.0H576V352.0H575V352.3H574V351.0H573V351.5H572V350.8H571V351.3H570V350.5H569V348.6H568V348.7H567V348.4H566V348.0H565V347.9H564V348.7H563V347.8H562V348.6H561V348.1H560V348.5H559V347.8H558V346.4H557V346.3H556V347.2H555V346.1H554V346.4H553V346.5H552V344.9H551V343.7H550V342.9H549V342.7H548V342.7H547V343.0H546V342.0H545V343.9H544V344.8H543V343.7H542V343.5H541V343.4H540V342.7H539V343.7H538V343.6H537V341.6H536V340.1H535V340.1H534V340.2H533V340.0H532V339.0H531V338.9H530V338.4H529V337.4H528V337.2H527V337.4H526V337.1H525V337.1H524V335.9H523V335.8H522V334.9H521V334.7H520V334.5H519V334.3H518V333.2H517V331.6H516V330.2H515V328.4H514V327.4H513V327.1H512V326.0H511V325.2H510V323.8H509V322.9H508V321.0H507V321.5H506V322.4H505V323.4H504V324.3H503V324.3H502V325.9H501V326.8H500V327.6H499V329.9H498V329.6H497V329.6H496V330.4H495V331.6H494V332.1H493V332.0H492V333.2H491V333.3H490V335.4H489V334.9H488V336.0H487V337.0H486V338.4H485V338.6H484V339.0H483V340.1H482V340.8H481V341.1H480V341.0H479V342.9H478V343.9H477V344.8H476V346.1H475V346.5H474V346.8H473V348.8H472V350.7H471V351.4H470V352.4H469V352.1H468V352.1H467V353.7H466V353.9H465V355.3H464V355.9H463V357.2H462V360.1H461V359.8H460V361.9H459V362.9H458V362.3H457V362.1H456V363.3H455V365.1H454V367.0H453V366.9H452V366.8H451V367.0H450V369.2H449V369.8H448V369.9H447V372.0H446V371.5H445V372.9H444V373.1H443V374.7H442V374.8H441V377.5H440V376.7H439V377.8H438V378.9H437V379.3H436V380.2H435V381.5H434V382.9H433V383.6H432V385.1H431V387.0H430V387.6H429V387.9H428V388.5H427V390.3H426V390.0H425V390.9H424V393.7H423V395.0H422V396.1H421V396.9H420V397.5H419V397.7H418V399.4H417V401.5H416V404.1H415V404.4H414V405.6H413V406.3H412V407.5H411V409.1H410V409.8H409V411.3H408V411.8H407V413.0H406V415.8H405V415.8H404V416.9H403V418.4H402V420.2H401V422.6H400V422.9H399V424.2H398V424.6H397V425.6H396V426.7H395V427.6H394V430.5H393V431.6H392V432.5H391V434.0H390V436.0H389V437.7H388V439.2H387V440.4H386V440.3H385V442.0H384V442.8H383V443.9H382V446.1H381V447.2H380V448.9H379V449.6H378V452.1H377V452.3H376V453.9H375V454.5H374V456.4H373V457.8H372V459.1H371V460.2H370V462.3H369V464.0H368V466.2H367V467.1H366V468.2H365V469.3H364V470.6H363V472.5H362V474.6H361V475.9H360V479.1H359V478.9H358V481.7H357V482.1H356V483.0H355V484.7H354V486.2H353V487.6H352V489.0H351V490.1H350V491.9H349V494.4H348V495.4H347V497.3H346V499.1H345V500.1H344V503.6H343V503.0H342V505.6H341V506.9H340V508.5H339V510.0H338V510.5H337V513.1H336V512.6H335V515.8H334V518.8H333V519.1H332V521.1H331V522.2H330V524.6H329V524.8H328V527.5H327V530.2H326V532.0H325V533.1H324V534.9H323V537.0H322V537.8H321V540.0H320V540.8H319V542.9H318V545.1H317V545.7H316V549.2H315V551.1H314V551.4H313V552.9H312V554.5H311V556.7H310V559.4H309V562.0H308V563.7H307V564.4H306V566.3H305V568.5H304V571.0H303V572.3H302V573.0H301V574.4H300V576.7H299V578.0H298V581.1H297V583.8H296V585.9H295V587.7H294V589.7H293V591.5H292V593.7H291V595.8H290V596.4H289V599.9H288V601.5H287V602.3H286V605.3H285V607.0H284V610.5H283V611.8H282V612.5H281V614.4H280V616.8H279V619.4H278V620.8H277V623.4H276V625.4H275V627.9H274V630.5H273V630.2H272V633.1H271V634.8H270V637.3H269V638.8H268V641.1H267V645.1H266V644.3H265V648.0H264V652.2H263V654.0H262V656.3H261V657.3H260V659.7H259V660.0H258V663.9H257V665.2H256V668.7H255V671.6H254V672.9H253V676.4H252V679.5H251V681.3H250V682.8H249V686.0H248V686.8H247V689.9H246V691.0H245V693.2H244V696.3H243V699.5H242V702.3H241V705.0H240V707.0H239V709.5H238V712.1H237V713.9H236V715.8H235V717.8H234V720.4H233V724.2H232V726.6H231V729.3H230V730.0H229V733.2H228V736.6H227V738.8H226V741.6H225V745.6H224V747.9H223V751.2H222V753.8H221V756.2H220V758.9H219V760.3H218V761.9H217V767.1H216V771.1H215V772.8H214V775.7H213V781.0H212V782.4H211V784.7H210V787.5H209V791.4H208V794.0H207V796.6H206V798.5H205V801.6H204V804.5H203V807.9H202V810.4H201V813.6H200V816.7H199V818.9H198V821.3H197V826.4H196V828.6H195V830.6H194V834.3H193V837.4H192V841.0H191V845.2H190V847.1H189V850.8H188V853.9H187V856.1H186V857.0H185V857.0H184Z"/>
<rect x="179.7" y="835.4" width="2.2" height="21.6" fill="#55a826"/>
<rect x="506.3" y="286" width="2.2" height="66.0" fill="#55a826"/>
<rect x="786.7" y="380" width="2.2" height="42.6" fill="#55a826"/>
<path fill="#f5a023" d="M186,854.7V854.7H187V850.8H188V848.9H189V846.2H190V842.4H191V841.2H192V837.8H193V834.0H194V830.5H195V827.1H196V825.0H197V821.8H198V819.0H199V816.5H200V813.5H201V812.1H202V808.3H203V803.9H204V801.4H205V799.1H206V795.2H207V793.1H208V790.1H209V786.9H210V784.3H211V782.5H212V780.0H213V776.4H214V775.0H215V771.4H216V767.4H217V765.2H218V761.4H219V760.8H220V759.7H221V757.8H222V754.6H223V751.5H224V748.0H225V744.6H226V743.2H227V741.5H228V738.9H229V736.9H230V734.2H231V730.4H232V728.6H233V727.6H234V724.5H235V721.4H236V718.2H237V716.1H238V714.1H239V711.6H240V709.4H241V707.0H242V703.9H243V701.4H244V699.0H245V697.2H246V694.6H247V692.0H248V690.5H249V689.0H250V686.7H251V683.9H252V681.6H253V679.2H254V676.7H255V674.3H256V670.7H257V669.1H258V666.6H259V666.3H260V664.2H261V661.4H262V659.0H263V657.0H264V655.6H265V653.6H266V650.0H267V647.5H268V645.9H269V643.6H270V641.6H271V638.8H272V636.2H273V633.2H274V631.9H275V629.5H276V628.6H277V628.2H278V625.8H279V622.8H280V620.3H281V619.0H282V617.4H283V616.1H284V614.2H285V611.9H286V610.6H287V607.2H288V605.4H289V604.0H290V601.6H291V599.6H292V599.4H293V596.1H294V593.8H295V592.4H296V590.0H297V587.2H298V585.8H299V584.6H300V583.0H301V581.4H302V578.8H303V576.6H304V575.3H305V574.0H306V571.7H307V569.5H308V569.1H309V566.0H310V564.4H311V563.3H312V560.5H313V559.8H314V557.1H315V555.5H316V554.2H317V551.3H318V551.4H319V550.3H320V548.1H321V546.7H322V545.1H323V543.0H324V540.2H325V538.1H326V537.4H327V535.2H328V532.4H329V531.8H330V531.0H331V528.4H332V527.3H333V525.0H334V524.2H335V523.1H336V520.0H337V518.8H338V517.3H339V515.4H340V514.0H341V512.8H342V511.6H343V508.6H344V506.7H345V506.5H346V505.0H347V503.0H348V502.3H349V500.2H350V499.0H351V497.8H352V497.1H353V495.6H354V493.9H355V492.0H356V490.2H357V488.8H358V486.5H359V485.5H360V483.2H361V482.2H362V481.4H363V478.9H364V477.7H365V476.3H366V473.1H367V472.3H368V470.5H369V470.3H370V468.6H371V467.4H372V466.4H373V464.4H374V464.1H375V462.8H376V461.4H377V460.2H378V458.2H379V457.0H380V455.9H381V455.1H382V452.5H383V450.4H384V449.7H385V449.2H386V446.7H387V446.0H388V444.7H389V442.8H390V443.2H391V441.3H392V438.6H393V437.7H394V436.9H395V436.9H396V435.6H397V434.1H398V432.8H399V431.7H400V430.1H401V427.4H402V427.0H403V426.5H404V424.5H405V423.0H406V422.0H407V419.8H408V420.0H409V418.0H410V417.6H411V415.8H412V415.5H413V414.8H414V413.3H415V412.1H416V410.9H417V409.8H418V407.7H419V406.3H420V404.8H421V403.7H422V403.6H423V402.0H424V401.7H425V401.0H426V399.3H427V396.8H428V396.2H429V395.8H430V395.2H431V393.4H432V392.7H433V392.3H434V390.3H435V389.0H436V387.3H437V386.8H438V385.0H439V383.9H440V383.7H441V382.7H442V381.2H443V380.5H444V378.8H445V378.2H446V376.9H447V375.8H448V375.1H449V374.5H450V373.6H451V373.0H452V371.2H453V369.2H454V369.1H455V367.1H456V366.1H457V365.6H458V363.6H459V362.8H460V362.5H461V360.8H462V358.9H463V358.4H464V357.1H465V355.5H466V355.4H467V354.7H468V354.0H469V352.2H470V351.1H471V350.6H472V349.6H473V349.9H474V349.0H475V348.3H476V347.4H477V346.5H478V345.0H479V344.0H480V342.9H481V342.2H482V339.5H483V339.1H484V338.3H485V337.4H486V336.2H487V336.0H488V335.1H489V333.8H490V333.9H491V332.5H492V330.5H493V330.1H494V328.6H495V327.2H496V327.3H497V326.7H498V326.4H499V325.1H500V324.1H501V323.6H502V323.3H503V320.7H504V319.8H505V320.0H506V319.0H507V318.5H508V318.8H509V319.3H510V319.8H511V322.1H512V321.9H513V323.4H514V325.7H515V326.1H516V326.4H517V326.5H518V328.4H519V329.2H520V328.6H521V328.1H522V329.2H523V329.6H524V329.8H525V329.6H526V329.5H527V329.3H528V331.0H529V331.2H530V332.2H531V332.4H532V333.0H533V331.8H534V332.9H535V333.5H536V334.2H537V334.0H538V335.6H539V334.9H540V335.3H541V334.8H542V335.9H543V335.2H544V334.5H545V334.6H546V336.6H547V335.7H548V336.2H549V335.7H550V337.7H551V336.6H552V336.9H553V338.4H554V339.2H555V338.0H556V338.3H557V339.6H558V339.4H559V339.9H560V340.2H561V340.6H562V341.9H563V342.3H564V340.6H565V342.0H566V342.1H567V341.8H568V342.3H569V343.1H570V342.0H571V342.4H572V343.6H573V344.8H574V344.8H575V344.6H576V344.4H577V344.5H578V344.7H579V345.4H580V345.8H581V347.6H582V347.7H583V348.2H584V347.0H585V347.0H586V347.9H587V347.0H588V347.3H589V348.4H590V348.3H591V348.1H592V347.7H593V348.1H594V348.8H595V349.2H596V350.1H597V350.1H598V349.7H599V349.6H600V349.0H601V349.8H602V350.1H603V350.2H604V349.9H605V351.1H606V351.5H607V350.7H608V352.8H609V352.3H610V351.6H611V352.2H612V351.8H613V351.6H614V350.9H615V350.1H616V351.1H617V352.2H618V353.3H619V352.5H620V352.2H621V353.5H622V354.0H623V352.9H624V353.4H625V352.7H626V353.7H627V353.7H628V353.2H629V353.8H630V354.1H631V352.3H632V354.3H633V354.1H634V355.2H635V353.8H636V355.2H637V355.5H638V355.2H639V357.1H640V357.6H641V356.6H642V355.6H643V356.1H644V356.9H645V357.7H646V356.8H647V357.6H648V357.3H649V357.6H650V357.5H651V357.1H652V356.6H653V356.7H654V356.6H655V358.1H656V358.3H657V359.1H658V360.1H659V360.5H660V359.9H661V361.5H662V361.5H663V361.9H664V361.0H665V360.6H666V361.3H667V360.9H668V361.7H669V360.6H670V360.1H671V360.4H672V360.8H673V362.5H674V362.4H675V361.3H676V361.1H677V361.4H678V361.9H679V362.0H680V363.3H681V362.3H682V362.0H683V362.7H684V363.3H685V363.8H686V363.6H687V364.1H688V365.2H689V364.2H690V364.3H691V363.8H692V363.9H693V363.0H694V362.9H695V363.0H696V363.2H697V364.8H698V364.8H699V365.5H700V365.0H701V364.6H702V364.4H703V363.9H704V364.8H705V366.1H706V367.5H707V367.5H708V367.4H709V366.9H710V365.5H711V365.8H712V367.5H713V366.2H714V366.8H715V366.2H716V366.2H717V367.4H718V365.6H719V365.9H720V365.9H721V366.2H722V367.0H723V366.5H724V366.7H725V366.7H726V366.4H727V367.5H728V368.0H729V367.3H730V367.2H731V367.6H732V368.1H733V369.6H734V371.2H735V369.8H736V370.4H737V371.1H738V371.0H739V370.8H740V371.1H741V370.6H742V370.2H743V369.9H744V372.8H745V372.5H746V372.1H747V372.0H748V370.8H749V371.5H750V372.4H751V371.4H752V372.5H753V372.5H754V372.3H755V372.0H756V372.1H757V372.4H758V372.9H759V372.2H760V372.4H761V372.8H762V372.5H763V373.9H764V373.2H765V372.1H766V372.4H767V373.0H768V373.4H769V374.2H770V374.8H771V374.9H772V375.0H773V375.8H774V374.1H775V374.4H776V374.1H777V375.0H778V375.0H779V375.3H780V374.7H781V375.2H782V376.3H783V376.1H784V374.1H785V375.3H786V374.9H787V375.6H788V376.5H789V376.4H790V376.2H791V375.0H792V376.0H793V374.1H794V374.9H795V376.8H796V374.7H797V376.2H798V375.5H799V376.3H800V376.5H801V377.0H802V377.0H803V376.8H804V375.5H805V377.0H806V377.7H807V377.2H808V377.7H809V377.6H810V378.0H811V378.0H812V378.3H813V378.5H814V379.6H815V378.7H816V378.6H817V378.7H818V378.3H819V379.6H820V378.3H821V377.7H822V378.1H823V377.3H824V377.7H825V378.1H826V378.7H827V380.6H828V377.8H829V379.5H830V379.1H831V377.5H832V377.6H833V378.6H834V379.2H835V379.3H836V380.5H837V379.6H838V378.7H839V380.9H840V381.6H841V380.5H842V381.2H843V381.1H844V381.5H845V381.4H846V381.5H847V382.6H848V382.5H849V382.2H850V382.0H851V381.8H852V382.1H853V381.4H854V388.6V388.6H853V387.7H852V388.0H851V387.9H850V387.8H849V388.6H848V389.5H847V388.5H846V389.2H845V386.7H844V385.4H843V387.0H842V386.8H841V387.5H840V387.8H839V387.3H838V387.4H837V386.3H836V386.2H835V385.3H834V385.1H833V385.0H832V385.0H831V386.2H830V386.1H829V384.8H828V384.9H827V385.2H826V384.4H825V384.3H824V384.5H823V383.8H822V385.1H821V385.6H820V385.8H819V384.6H818V384.0H817V383.5H816V385.1H815V386.0H814V385.5H813V384.9H812V384.7H811V385.8H810V385.8H809V385.3H808V383.9H807V383.9H806V383.0H805V383.4H804V384.3H803V383.7H802V383.2H801V383.3H800V382.9H799V381.7H798V381.3H797V381.7H796V383.6H795V382.6H794V382.5H793V382.7H792V383.1H791V382.3H790V381.8H789V380.4H788V380.7H787V380.9H786V381.3H785V380.9H784V381.9H783V381.9H782V381.4H781V382.0H780V383.4H779V380.7H778V380.8H777V381.7H776V382.1H775V380.8H774V382.2H773V382.0H772V380.6H771V381.3H770V380.8H769V379.3H768V379.3H767V379.3H766V378.9H765V378.4H764V379.7H763V379.6H762V380.9H761V380.1H760V379.4H759V378.8H758V379.2H757V380.0H756V378.6H755V378.3H754V379.1H753V377.8H752V376.9H751V377.4H750V378.6H749V378.3H748V378.1H747V377.2H746V377.9H745V377.5H744V376.4H743V376.8H742V377.5H741V378.8H740V376.9H739V377.8H738V378.2H737V376.8H736V377.2H735V378.0H734V376.5H733V376.1H732V376.0H731V375.3H730V374.5H729V375.6H728V375.4H727V374.9H726V375.6H725V373.4H724V373.3H723V374.0H722V373.1H721V373.3H720V373.1H719V372.7H718V374.2H717V373.1H716V372.6H715V372.5H714V373.2H713V373.0H712V372.5H711V371.4H710V372.1H709V373.3H708V373.4H707V372.7H706V374.2H705V371.7H704V371.8H703V371.8H702V371.5H701V370.8H700V371.1H699V370.6H698V371.8H697V371.7H696V371.1H695V369.8H694V370.6H693V370.5H692V370.8H691V370.4H690V371.0H689V370.5H688V370.6H687V369.7H686V369.2H685V369.6H684V369.0H683V368.5H682V368.2H681V368.3H680V368.0H679V368.3H678V368.6H677V368.1H676V368.1H675V368.8H674V367.8H673V368.6H672V368.3H671V366.9H670V368.2H669V368.4H668V366.7H667V367.3H666V368.2H665V367.1H664V366.5H663V368.1H662V366.8H661V365.4H660V365.9H659V367.3H658V366.3H657V363.7H656V363.2H655V363.4H654V363.8H653V364.2H652V364.1H651V363.5H650V363.8H649V363.5H648V363.2H647V364.6H646V364.5H645V362.7H644V362.0H643V362.2H642V363.5H641V363.4H640V362.4H639V361.9H638V362.1H637V362.4H636V362.4H635V361.1H634V361.0H633V362.1H632V361.0H631V361.5H630V360.9H629V360.4H628V360.7H627V359.7H626V360.1H625V359.6H624V360.4H623V359.6H622V359.7H621V360.4H620V360.1H619V360.9H618V359.7H617V357.3H616V357.5H615V357.8H614V360.1H613V358.5H612V358.0H611V357.8H610V359.7H609V358.7H608V358.1H607V357.3H606V358.5H605V358.1H604V358.4H603V357.4H602V356.3H601V355.9H600V356.0H599V355.7H598V355.3H597V355.5H596V355.6H595V356.2H594V355.9H593V355.5H592V354.4H591V354.2H590V355.3H589V354.6H588V354.2H587V354.9H586V354.7H585V354.4H584V353.6H583V354.3H582V353.6H581V353.3H580V352.3H579V351.8H578V352.0H577V352.9H576V351.0H575V351.5H574V351.2H573V351.9H572V350.1H571V348.6H570V349.9H569V349.3H568V347.9H567V349.1H566V348.6H565V347.4H564V347.5H563V346.9H562V346.4H561V347.3H560V346.8H559V346.2H558V346.8H557V344.7H556V345.8H555V346.0H554V346.2H553V344.0H552V344.5H551V343.8H550V344.2H549V343.1H548V342.3H547V342.8H546V341.6H545V342.8H544V342.3H543V342.9H542V341.2H541V341.4H540V341.6H539V342.0H538V341.0H537V341.3H536V340.1H535V340.1H534V339.6H533V339.3H532V338.9H531V337.6H530V337.2H529V336.7H528V336.3H527V335.3H526V336.2H525V335.0H524V334.1H523V335.6H522V335.6H521V334.2H520V333.0H519V333.5H518V332.8H517V332.3H516V331.9H515V331.4H514V330.8H513V329.3H512V327.6H511V325.8H510V325.2H509V325.1H508V325.1H507V325.5H506V326.3H505V328.8H504V328.8H503V330.1H502V330.7H501V331.7H500V332.2H499V333.7H498V333.7H497V334.9H496V335.5H495V336.0H494V337.2H493V338.3H492V340.5H491V340.5H490V340.8H489V342.0H488V342.8H487V343.5H486V345.2H485V346.7H484V347.9H483V348.0H482V348.7H481V350.3H480V350.8H479V351.7H478V353.4H477V354.2H476V355.6H475V356.4H474V358.2H473V358.3H472V359.0H471V359.0H470V359.6H469V361.6H468V362.5H467V363.5H466V364.3H465V365.2H464V365.8H463V367.0H462V367.2H461V369.4H460V370.1H459V371.6H458V373.3H457V373.4H456V375.1H455V376.3H454V376.4H453V377.7H452V379.2H451V380.6H450V383.1H449V382.2H448V384.4H447V385.6H446V387.3H445V388.5H444V388.7H443V388.9H442V391.1H441V390.9H440V391.8H439V392.8H438V393.1H437V394.2H436V396.8H435V398.6H434V399.8H433V400.3H432V401.1H431V402.6H430V403.8H429V403.9H428V404.9H427V407.1H426V408.2H425V408.3H424V410.8H423V412.4H422V412.3H421V412.3H420V414.3H419V415.9H418V416.2H417V417.7H416V418.3H415V420.7H414V421.8H413V422.8H412V421.9H411V424.5H410V425.1H409V426.7H408V428.4H407V430.8H406V430.5H405V432.2H404V433.6H403V435.0H402V436.0H401V437.1H400V438.2H399V439.6H398V441.0H397V443.3H396V445.5H395V445.0H394V446.3H393V446.6H392V449.9H391V451.1H390V451.1H389V452.1H388V454.2H387V456.8H386V457.0H385V459.1H384V459.5H383V461.5H382V462.9H381V463.2H380V465.0H379V466.0H378V467.8H377V468.7H376V471.3H375V472.7H374V473.1H373V473.8H372V476.3H371V476.5H370V478.1H369V479.2H368V480.6H367V482.9H366V483.7H365V486.6H364V486.9H363V489.1H362V488.9H361V490.7H360V493.0H359V495.1H358V496.1H357V498.3H356V500.0H355V500.9H354V502.5H353V503.4H352V504.1H351V506.9H350V509.2H349V510.0H348V510.8H347V513.5H346V515.0H345V516.5H344V516.9H343V518.3H342V519.8H341V521.5H340V521.9H339V525.5H338V527.1H337V529.1H336V531.8H335V533.5H334V535.5H333V535.3H332V538.0H331V539.3H330V541.5H329V541.7H328V543.7H327V545.8H326V548.0H325V548.9H324V549.8H323V552.8H322V554.2H321V555.3H320V557.8H319V558.8H318V561.3H317V563.0H316V564.5H315V567.0H314V569.3H313V569.2H312V571.9H311V573.7H310V574.6H309V575.4H308V576.8H307V580.2H306V581.5H305V583.4H304V585.0H303V587.7H302V589.3H301V591.6H300V592.0H299V594.1H298V595.9H297V598.9H296V601.2H295V602.5H294V604.1H293V607.0H292V608.2H291V610.7H290V611.9H289V614.9H288V615.6H287V617.5H286V620.1H285V622.2H284V625.3H283V626.7H282V627.0H281V630.1H280V632.1H279V634.6H278V635.6H277V637.1H276V640.4H275V640.8H274V641.5H273V645.9H272V647.4H271V650.7H270V652.8H269V654.2H268V655.8H267V657.8H266V661.1H265V663.4H264V666.2H263V667.5H262V671.0H261V672.5H260V675.6H259V676.5H258V678.1H257V681.2H256V684.1H255V686.3H254V688.9H253V689.8H252V692.0H251V694.8H250V697.3H249V699.4H248V702.6H247V704.4H246V705.8H245V707.2H244V711.4H243V712.2H242V715.4H241V718.8H240V720.5H239V723.2H238V725.6H237V727.7H236V728.1H235V732.3H234V735.5H233V737.7H232V741.2H231V743.0H230V744.5H229V747.8H228V750.2H227V752.1H226V753.7H225V757.0H224V761.6H223V764.7H222V764.4H221V766.6H220V771.0H219V772.2H218V775.4H217V779.2H216V780.5H215V784.1H214V787.2H213V788.2H212V790.9H211V794.1H210V797.4H209V800.8H208V803.0H207V804.9H206V807.4H205V810.3H204V813.5H203V818.0H202V821.4H201V823.0H200V826.0H199V828.4H198V830.9H197V833.8H196V837.0H195V840.5H194V842.6H193V844.9H192V849.6H191V852.3H190V853.9H189V857.0H188V857.0H187V857.0H186Z"/>
<rect x="506.2" y="320" width="4.2" height="30.0" fill="#f5a023"/>
<rect x="785.2" y="378" width="2.2" height="12.0" fill="#f5a023"/>
<rect x="788.4" y="380" width="2.8" height="43.6" fill="#f5a023"/>
<path fill="#e2591a" d="M186,854.7V854.7H187V852.5H188V849.2H189V846.7H190V843.5H191V838.2H192V835.4H193V832.5H194V830.5H195V826.9H196V824.8H197V821.0H198V819.0H199V815.6H200V810.9H201V809.1H202V805.9H203V803.3H204V801.9H205V797.4H206V794.7H207V792.4H208V790.5H209V787.2H210V785.3H211V782.4H212V780.4H213V777.3H214V773.5H215V768.8H216V766.0H217V762.8H218V760.7H219V758.8H220V756.8H221V754.1H222V750.2H223V747.7H224V745.6H225V743.7H226V740.7H227V737.4H228V734.3H229V732.9H230V729.2H231V727.2H232V725.2H233V723.6H234V720.2H235V717.1H236V714.4H237V711.6H238V710.2H239V707.5H240V705.2H241V702.6H242V702.3H243V698.4H244V695.7H245V692.7H246V690.0H247V687.5H248V684.6H249V682.5H250V680.8H251V678.6H252V676.1H253V673.3H254V670.7H255V669.2H256V666.9H257V664.1H258V661.2H259V659.2H260V656.0H261V654.3H262V651.3H263V650.4H264V648.0H265V645.7H266V642.1H267V639.7H268V638.8H269V636.3H270V634.8H271V631.8H272V629.3H273V627.5H274V626.2H275V624.1H276V621.5H277V621.0H278V616.7H279V614.1H280V614.2H281V611.7H282V610.1H283V606.6H284V604.0H285V601.7H286V600.5H287V599.0H288V597.1H289V594.5H290V593.3H291V591.2H292V589.8H293V588.0H294V584.2H295V583.6H296V580.8H297V579.7H298V576.9H299V575.6H300V574.7H301V571.8H302V572.1H303V569.8H304V567.1H305V565.4H306V564.0H307V562.1H308V558.4H309V556.9H310V555.0H311V553.1H312V552.1H313V551.5H314V549.1H315V547.2H316V545.5H317V544.1H318V542.2H319V540.5H320V538.3H321V535.2H322V534.1H323V533.8H324V530.7H325V529.7H326V528.3H327V526.4H328V523.8H329V522.6H330V520.7H331V519.0H332V517.4H333V515.0H334V514.3H335V513.0H336V511.9H337V509.1H338V506.1H339V505.8H340V504.7H341V501.9H342V502.3H343V501.4H344V498.6H345V497.0H346V495.7H347V493.8H348V489.4H349V490.5H350V487.2H351V486.4H352V486.4H353V483.8H354V481.6H355V480.4H356V479.0H357V477.1H358V477.7H359V475.2H360V473.6H361V471.5H362V470.3H363V469.9H364V467.3H365V466.5H366V464.9H367V464.3H368V462.3H369V460.6H370V458.9H371V457.9H372V455.3H373V455.0H374V453.3H375V452.7H376V452.0H377V449.5H378V447.2H379V446.5H380V444.4H381V443.4H382V442.4H383V442.3H384V440.7H385V438.0H386V437.1H387V436.7H388V435.3H389V433.9H390V432.8H391V432.2H392V430.0H393V428.5H394V425.8H395V425.9H396V424.4H397V422.3H398V421.8H399V420.9H400V419.6H401V418.9H402V416.6H403V415.6H404V414.7H405V413.9H406V412.9H407V410.9H408V409.4H409V407.1H410V406.5H411V404.9H412V404.4H413V404.7H414V403.3H415V401.5H416V400.9H417V401.0H418V398.1H419V396.4H420V395.0H421V394.2H422V393.1H423V391.8H424V389.9H425V389.9H426V388.0H427V386.9H428V385.9H429V384.2H430V384.3H431V384.2H432V381.3H433V380.2H434V379.0H435V378.3H436V377.8H437V376.7H438V375.4H439V375.0H440V372.9H441V371.8H442V371.7H443V371.1H444V370.6H445V369.5H446V369.1H447V368.1H448V366.8H449V365.7H450V363.4H451V363.1H452V361.9H453V362.0H454V359.1H455V357.3H456V356.8H457V357.2H458V356.1H459V355.0H460V353.1H461V353.9H462V351.5H463V351.1H464V349.6H465V350.6H466V348.1H467V346.6H468V346.3H469V344.9H470V344.4H471V341.9H472V341.4H473V339.4H474V339.0H475V337.9H476V338.7H477V337.0H478V337.6H479V336.9H480V335.8H481V333.7H482V331.4H483V331.7H484V329.0H485V328.9H486V329.6H487V327.1H488V326.3H489V325.8H490V325.1H491V325.0H492V323.5H493V321.7H494V320.7H495V320.9H496V319.7H497V318.1H498V318.5H499V317.8H500V317.1H501V315.1H502V313.8H503V313.3H504V312.7H505V312.3H506V310.9H507V311.0H508V310.6H509V311.8H510V312.8H511V313.4H512V315.1H513V315.4H514V316.5H515V317.7H516V317.0H517V315.9H518V317.3H519V318.8H520V319.9H521V320.6H522V319.4H523V319.7H524V320.7H525V322.2H526V322.9H527V322.7H528V323.5H529V322.8H530V324.2H531V326.0H532V326.1H533V325.1H534V325.8H535V326.7H536V326.7H537V326.8H538V328.1H539V328.2H540V328.9H541V328.8H542V329.0H543V329.5H544V329.5H545V328.8H546V329.4H547V330.3H548V330.7H549V330.7H550V330.8H551V330.9H552V331.5H553V332.6H554V332.7H555V332.9H556V335.0H557V334.0H558V333.8H559V335.1H560V334.7H561V334.4H562V333.6H563V334.6H564V334.4H565V334.9H566V335.4H567V337.0H568V337.9H569V336.9H570V336.8H571V337.7H572V337.9H573V339.0H574V338.8H575V340.0H576V339.1H577V339.4H578V339.6H579V340.5H580V341.7H581V341.2H582V340.6H583V341.2H584V339.7H585V340.2H586V340.7H587V342.2H588V341.0H589V341.2H590V341.6H591V342.5H592V341.6H593V343.8H594V343.4H595V344.8H596V344.1H597V341.8H598V343.3H599V343.1H600V342.5H601V342.6H602V343.0H603V342.7H604V342.8H605V344.1H606V344.7H607V343.5H608V344.6H609V344.3H610V345.5H611V345.3H612V344.2H613V345.1H614V344.6H615V344.7H616V343.8H617V343.9H618V344.6H619V345.2H620V346.3H621V346.4H622V348.1H623V347.4H624V347.4H625V346.6H626V347.6H627V346.7H628V348.3H629V349.4H630V349.4H631V348.4H632V350.0H633V350.1H634V350.0H635V350.5H636V349.4H637V348.9H638V348.2H639V348.7H640V350.2H641V349.9H642V350.7H643V351.7H644V351.5H645V350.6H646V350.8H647V349.8H648V350.3H649V351.8H650V352.9H651V351.5H652V350.8H653V351.6H654V351.4H655V351.3H656V352.5H657V352.5H658V352.5H659V353.1H660V352.8H661V352.5H662V351.7H663V352.4H664V351.4H665V352.1H666V352.6H667V352.7H668V353.8H669V354.8H670V353.9H671V353.1H672V353.0H673V353.9H674V353.2H675V353.4H676V353.7H677V355.3H678V354.9H679V353.8H680V354.0H681V355.2H682V356.3H683V357.1H684V356.4H685V355.7H686V356.5H687V355.7H688V355.3H689V355.1H690V357.0H691V357.9H692V358.2H693V356.1H694V357.5H695V357.4H696V358.1H697V358.5H698V358.6H699V358.2H700V358.2H701V359.0H702V359.7H703V359.3H704V358.6H705V359.3H706V359.4H707V360.3H708V360.3H709V360.6H710V359.5H711V359.5H712V360.1H713V360.6H714V361.3H715V361.6H716V362.5H717V362.7H718V363.5H719V362.4H720V362.2H721V363.8H722V363.5H723V363.2H724V363.3H725V364.6H726V364.8H727V364.5H728V363.8H729V364.0H730V364.4H731V364.9H732V364.6H733V365.5H734V364.3H735V364.7H736V365.7H737V364.8H738V364.7H739V364.9H740V365.9H741V366.4H742V365.8H743V366.1H744V365.3H745V365.4H746V365.2H747V366.1H748V367.1H749V366.2H750V367.2H751V367.2H752V367.0H753V369.2H754V369.3H755V369.4H756V368.2H757V368.7H758V368.8H759V370.5H760V368.5H761V368.8H762V370.3H763V370.5H764V370.7H765V370.3H766V370.6H767V370.8H768V369.5H769V370.6H770V370.4H771V371.2H772V371.8H773V371.2H774V371.7H775V371.2H776V370.6H777V370.7H778V371.8H779V373.2H780V372.5H781V371.1H782V370.5H783V372.0H784V371.7H785V372.3H786V373.0H787V372.7H788V371.0H789V370.6H790V372.4H791V371.1H792V371.4H793V372.2H794V371.6H795V372.3H796V372.7H797V372.1H798V373.4H799V373.0H800V375.2H801V373.8H802V373.3H803V373.4H804V373.0H805V372.0H806V373.0H807V374.3H808V373.5H809V372.0H810V372.2H811V371.4H812V372.6H813V374.0H814V374.2H815V373.5H816V374.6H817V375.3H818V375.2H819V374.8H820V375.1H821V375.4H822V376.2H823V374.2H824V373.0H825V373.3H826V374.9H827V374.6H828V374.7H829V373.7H830V374.9H831V374.7H832V375.0H833V375.0H834V374.3H835V375.3H836V376.2H837V374.7H838V376.1H839V376.7H840V373.8H841V373.9H842V375.3H843V376.5H844V376.1H845V375.0H846V374.4H847V375.6H848V375.1H849V375.0H850V375.5H851V375.9H852V376.4H853V376.3H854V382.6V382.6H853V382.9H852V382.0H851V382.2H850V382.5H849V383.2H848V382.8H847V382.3H846V382.0H845V381.0H844V380.9H843V381.8H842V380.8H841V380.9H840V382.9H839V383.7H838V382.6H837V382.4H836V381.1H835V380.0H834V381.1H833V381.7H832V381.7H831V381.4H830V379.8H829V381.6H828V381.3H827V381.5H826V380.8H825V381.6H824V382.2H823V382.3H822V382.3H821V380.9H820V381.4H819V380.6H818V381.1H817V380.2H816V380.7H815V380.1H814V379.3H813V379.5H812V379.4H811V378.3H810V379.1H809V379.9H808V380.1H807V379.8H806V379.5H805V379.7H804V379.5H803V380.3H802V381.6H801V380.5H800V380.7H799V380.0H798V379.6H797V379.3H796V378.0H795V379.4H794V379.2H793V378.0H792V378.2H791V378.7H790V378.2H789V378.2H788V379.1H787V378.0H786V378.4H785V378.5H784V377.0H783V377.3H782V377.3H781V378.5H780V379.2H779V379.4H778V378.5H777V377.8H776V378.0H775V380.0H774V378.8H773V378.8H772V378.7H771V377.3H770V377.6H769V377.3H768V377.4H767V377.2H766V376.6H765V376.9H764V377.3H763V376.6H762V376.3H761V376.7H760V376.2H759V375.5H758V375.2H757V374.2H756V375.4H755V374.7H754V374.9H753V373.9H752V373.6H751V372.4H750V372.4H749V372.9H748V372.3H747V371.8H746V372.2H745V371.4H744V372.0H743V372.7H742V372.6H741V373.4H740V372.6H739V371.4H738V372.3H737V370.3H736V371.2H735V371.0H734V371.2H733V370.9H732V371.6H731V371.5H730V371.6H729V370.1H728V371.6H727V372.6H726V372.1H725V370.7H724V369.1H723V370.6H722V370.2H721V369.4H720V369.5H719V369.9H718V369.3H717V370.1H716V368.2H715V368.8H714V368.1H713V368.0H712V366.7H711V366.9H710V367.0H709V366.0H708V366.3H707V367.8H706V366.7H705V366.6H704V366.4H703V366.1H702V366.0H701V365.7H700V365.2H699V365.1H698V365.2H697V363.5H696V363.9H695V363.0H694V364.2H693V363.6H692V363.1H691V363.2H690V361.6H689V362.4H688V362.2H687V362.9H686V362.0H685V362.8H684V363.7H683V363.3H682V362.0H681V361.0H680V361.6H679V361.7H678V359.6H677V358.6H676V360.8H675V360.2H674V359.8H673V360.6H672V360.8H671V361.6H670V361.4H669V361.5H668V360.1H667V361.1H666V360.2H665V359.9H664V359.4H663V359.6H662V359.5H661V358.9H660V359.2H659V359.0H658V358.0H657V358.3H656V357.3H655V357.7H654V359.0H653V359.0H652V358.1H651V358.0H650V357.4H649V357.2H648V357.8H647V358.2H646V358.3H645V357.6H644V358.6H643V358.2H642V356.7H641V356.0H640V355.9H639V354.5H638V355.9H637V356.5H636V356.7H635V355.5H634V355.4H633V355.6H632V356.2H631V355.9H630V355.4H629V356.0H628V353.9H627V354.5H626V354.5H625V355.1H624V354.9H623V354.4H622V351.7H621V352.8H620V352.6H619V351.7H618V351.2H617V351.4H616V351.5H615V352.5H614V351.7H613V350.4H612V350.5H611V351.4H610V350.9H609V350.9H608V351.5H607V351.0H606V349.8H605V349.3H604V348.6H603V348.9H602V349.8H601V351.1H600V349.9H599V349.5H598V349.5H597V349.2H596V349.9H595V349.9H594V350.5H593V348.8H592V348.1H591V347.5H590V348.7H589V347.0H588V348.8H587V348.5H586V348.2H585V347.1H584V348.1H583V347.7H582V347.3H581V348.6H580V347.5H579V346.9H578V345.4H577V346.0H576V346.4H575V345.5H574V345.2H573V345.3H572V344.6H571V344.5H570V345.2H569V345.6H568V344.4H567V342.6H566V341.8H565V341.1H564V340.2H563V340.8H562V341.5H561V341.3H560V342.6H559V341.1H558V341.6H557V340.9H556V339.5H555V340.6H554V340.5H553V340.0H552V336.7H551V338.0H550V337.9H549V336.9H548V337.7H547V337.3H546V335.6H545V336.0H544V335.0H543V335.3H542V335.9H541V335.5H540V334.1H539V333.5H538V333.3H537V333.4H536V334.4H535V332.8H534V331.6H533V332.2H532V332.3H531V330.3H530V328.6H529V329.5H528V329.4H527V329.9H526V329.6H525V328.3H524V326.7H523V326.3H522V327.3H521V326.6H520V325.9H519V323.9H518V322.3H517V322.9H516V323.7H515V323.3H514V322.7H513V321.2H512V320.3H511V319.7H510V319.0H509V317.6H508V317.7H507V318.2H506V318.1H505V319.8H504V320.8H503V322.5H502V322.9H501V323.7H500V325.3H499V325.7H498V326.2H497V325.6H496V328.4H495V330.1H494V330.2H493V331.6H492V331.3H491V332.3H490V333.1H489V334.7H488V334.5H487V336.5H486V336.7H485V339.3H484V340.0H483V339.8H482V341.5H481V344.1H480V342.8H479V344.0H478V345.4H477V345.5H476V343.8H475V346.4H474V347.5H473V349.1H472V350.5H471V351.3H470V352.9H469V353.5H468V354.5H467V355.3H466V358.9H465V358.5H464V358.9H463V359.7H462V360.2H461V360.7H460V360.4H459V362.4H458V364.0H457V363.8H456V366.6H455V367.4H454V369.6H453V368.7H452V369.9H451V370.8H450V372.7H449V373.8H448V375.7H447V377.3H446V376.1H445V377.1H444V378.9H443V379.7H442V380.5H441V381.1H440V383.4H439V383.4H438V384.3H437V385.9H436V387.2H435V386.6H434V388.5H433V389.6H432V391.3H431V391.8H430V391.7H429V393.2H428V393.6H427V395.6H426V396.7H425V396.7H424V397.7H423V400.5H422V401.8H421V402.4H420V404.3H419V407.5H418V408.3H417V407.2H416V408.6H415V409.1H414V409.8H413V411.5H412V412.7H411V415.1H410V415.1H409V416.9H408V418.3H407V420.9H406V420.2H405V422.0H404V423.4H403V425.9H402V426.7H401V428.1H400V429.2H399V428.4H398V430.8H397V432.3H396V433.8H395V435.4H394V435.9H393V437.1H392V438.7H391V439.9H390V441.6H389V442.3H388V444.3H387V445.3H386V446.1H385V448.7H384V450.3H383V449.9H382V451.6H381V452.2H380V454.0H379V455.0H378V456.3H377V458.0H376V459.5H375V462.5H374V463.7H373V463.6H372V466.6H371V467.0H370V468.4H369V469.9H368V472.2H367V472.9H366V475.4H365V475.2H364V476.8H363V477.1H362V479.7H361V481.8H360V483.0H359V484.9H358V487.4H357V488.1H356V489.6H355V490.5H354V492.4H353V494.5H352V495.1H351V496.3H350V497.7H349V498.3H348V501.0H347V503.1H346V505.4H345V506.6H344V508.3H343V509.9H342V511.4H341V513.3H340V514.8H339V515.7H338V517.7H337V520.4H336V520.9H335V522.1H334V522.9H333V524.5H332V527.3H331V530.0H330V531.4H329V531.5H328V533.4H327V537.0H326V538.3H325V539.8H324V542.5H323V542.4H322V545.1H321V547.0H320V548.2H319V549.4H318V552.7H317V553.2H316V555.0H315V557.6H314V560.2H313V561.3H312V562.2H311V564.2H310V565.5H309V567.8H308V570.1H307V572.8H306V574.8H305V575.9H304V577.9H303V580.1H302V581.9H301V583.6H300V584.6H299V585.8H298V588.3H297V589.7H296V593.2H295V593.4H294V596.3H293V598.4H292V599.6H291V601.3H290V603.1H289V604.6H288V607.3H287V609.9H286V611.3H285V614.5H284V616.2H283V618.9H282V619.4H281V622.7H280V623.3H279V626.4H278V628.8H277V630.9H276V632.6H275V634.1H274V636.6H273V638.5H272V641.1H271V642.6H270V644.2H269V646.7H268V648.4H267V651.7H266V654.9H265V656.6H264V659.4H263V660.3H262V662.3H261V664.7H260V667.1H259V669.9H258V672.2H257V674.6H256V677.8H255V680.1H254V682.9H253V685.4H252V688.0H251V689.4H250V692.1H249V695.0H248V698.5H247V700.1H246V703.0H245V705.8H244V707.9H243V709.5H242V713.1H241V714.7H240V717.9H239V719.6H238V720.6H237V723.4H236V725.7H235V728.4H234V733.0H233V734.4H232V736.5H231V738.8H230V740.1H229V744.8H228V748.1H227V749.8H226V753.3H225V755.6H224V758.5H223V760.9H222V763.3H221V766.3H220V768.7H219V770.7H218V773.7H217V776.8H216V779.8H215V781.7H214V785.6H213V788.5H212V790.6H211V793.1H210V795.9H209V799.0H208V802.5H207V805.7H206V807.3H205V811.6H204V813.7H203V816.2H202V819.3H201V821.2H200V824.0H199V828.1H198V830.3H197V833.9H196V835.6H195V840.0H194V841.8H193V845.4H192V848.2H191V851.8H190V855.0H189V857.0H188V857.0H187V857.0H186Z"/>
<rect x="506.1" y="312" width="4.4" height="32.7" fill="#e2591a"/>
<rect x="788.4" y="376" width="2.8" height="43.5" fill="#e2591a"/>
<rect x="783.0" y="342" width="2.0" height="10.0" fill="#e2591a"/>
<path fill="#a9abae" d="M184,853.3V853.3H185V849.1H186V846.0H187V842.9H188V840.0H189V837.1H190V834.5H191V831.0H192V827.1H193V826.0H194V822.7H195V820.3H196V816.1H197V812.3H198V809.1H199V806.4H200V802.1H201V800.1H202V797.8H203V793.9H204V790.2H205V787.8H206V785.3H207V782.5H208V781.0H209V777.9H210V774.0H211V770.5H212V769.4H213V766.2H214V762.9H215V759.7H216V757.0H217V753.7H218V752.0H219V747.7H220V745.6H221V743.2H222V740.8H223V738.1H224V735.1H225V732.7H226V729.6H227V726.4H228V724.6H229V722.1H230V719.8H231V717.2H232V715.0H233V712.7H234V708.4H235V706.0H236V703.3H237V702.2H238V699.4H239V697.5H240V694.7H241V691.9H242V688.6H243V686.2H244V683.6H245V680.5H246V679.6H247V677.4H248V672.7H249V672.6H250V670.0H251V667.1H252V664.8H253V662.8H254V658.1H255V656.4H256V654.0H257V652.6H258V650.6H259V648.5H260V646.6H261V645.0H262V641.2H263V640.6H264V636.5H265V634.4H266V632.9H267V630.5H268V628.3H269V625.3H270V623.1H271V622.7H272V619.6H273V616.9H274V614.4H275V613.1H276V611.1H277V608.2H278V605.9H279V603.8H280V602.0H281V600.3H282V598.7H283V597.7H284V595.2H285V591.2H286V589.9H287V586.7H288V586.9H289V584.9H290V582.5H291V579.6H292V578.2H293V576.8H294V574.6H295V572.3H296V568.5H297V568.0H298V565.7H299V564.1H300V562.7H301V559.7H302V557.3H303V556.5H304V554.3H305V553.0H306V550.7H307V548.9H308V547.6H309V546.1H310V544.4H311V542.1H312V540.2H313V538.6H314V536.2H315V534.2H316V532.6H317V531.3H318V530.2H319V526.5H320V524.7H321V523.7H322V521.7H323V519.5H324V516.1H325V515.4H326V513.3H327V512.0H328V511.0H329V508.9H330V508.2H331V506.3H332V504.2H333V502.9H334V501.2H335V499.4H336V498.1H337V495.1H338V494.1H339V492.8H340V491.0H341V489.4H342V485.7H343V485.5H344V484.3H345V483.3H346V482.2H347V481.2H348V479.3H349V476.3H350V476.5H351V473.7H352V470.8H353V470.3H354V469.0H355V468.4H356V466.4H357V465.0H358V462.6H359V461.6H360V460.5H361V459.6H362V457.5H363V456.3H364V454.0H365V451.4H366V450.3H367V450.6H368V448.6H369V445.8H370V444.9H371V443.4H372V442.3H373V440.9H374V440.3H375V438.5H376V437.5H377V435.5H378V434.6H379V432.9H380V431.8H381V429.3H382V428.3H383V428.1H384V427.6H385V425.6H386V423.0H387V422.6H388V421.4H389V419.7H390V419.3H391V418.5H392V416.9H393V414.6H394V412.0H395V411.8H396V411.4H397V410.3H398V408.6H399V406.8H400V406.1H401V404.9H402V403.2H403V402.9H404V400.9H405V400.0H406V399.2H407V397.4H408V396.5H409V395.3H410V394.3H411V393.3H412V390.7H413V391.0H414V390.2H415V390.1H416V386.8H417V387.1H418V383.9H419V383.4H420V382.1H421V381.9H422V378.8H423V379.3H424V376.9H425V376.6H426V374.8H427V374.8H428V373.5H429V373.4H430V371.0H431V370.1H432V368.5H433V367.8H434V366.3H435V365.0H436V365.3H437V363.8H438V363.1H439V361.4H440V361.1H441V359.2H442V359.0H443V358.6H444V357.0H445V354.1H446V353.7H447V352.0H448V351.8H449V351.0H450V349.2H451V347.7H452V346.6H453V344.5H454V344.0H455V342.9H456V342.6H457V342.1H458V340.2H459V340.5H460V339.7H461V339.6H462V337.6H463V336.7H464V337.3H465V337.1H466V335.5H467V334.0H468V332.9H469V331.7H470V329.6H471V329.6H472V330.2H473V328.1H474V325.7H475V324.5H476V323.9H477V323.5H478V323.9H479V321.6H480V320.4H481V319.5H482V317.3H483V317.3H484V315.1H485V316.0H486V314.6H487V314.7H488V312.9H489V312.0H490V311.5H491V309.8H492V307.5H493V307.1H494V307.2H495V306.8H496V305.8H497V305.2H498V305.0H499V302.8H500V301.5H501V301.5H502V301.0H503V300.6H504V300.3H505V298.7H506V297.6H507V296.5H508V299.1H509V301.1H510V300.1H511V301.2H512V300.1H513V301.0H514V301.2H515V302.0H516V301.8H517V302.7H518V304.9H519V304.4H520V304.5H521V306.4H522V307.2H523V306.9H524V307.9H525V308.8H526V309.8H527V311.5H528V310.7H529V310.3H530V312.2H531V312.3H532V312.4H533V313.0H534V313.4H535V314.0H536V315.2H537V315.5H538V315.7H539V316.4H540V317.2H541V315.5H542V316.3H543V316.8H544V317.7H545V318.9H546V319.8H547V319.0H548V319.4H549V318.7H550V318.9H551V318.8H552V319.6H553V319.8H554V319.6H555V321.4H556V321.5H557V321.6H558V323.8H559V324.4H560V324.2H561V321.9H562V321.9H563V322.5H564V323.7H565V324.9H566V324.7H567V324.3H568V325.5H569V326.5H570V326.0H571V326.5H572V326.0H573V325.9H574V325.3H575V326.2H576V326.6H577V326.9H578V327.1H579V328.1H580V328.5H581V328.6H582V328.8H583V328.8H584V329.5H585V329.1H586V330.7H587V330.2H588V330.6H589V330.6H590V330.9H591V329.8H592V330.6H593V329.6H594V329.2H595V330.6H596V331.3H597V332.1H598V331.7H599V332.8H600V333.5H601V333.6H602V333.5H603V334.1H604V333.8H605V334.1H606V335.1H607V334.3H608V334.5H609V335.0H610V335.6H611V335.5H612V334.6H613V335.4H614V335.5H615V336.1H616V335.5H617V337.2H618V336.9H619V337.6H620V336.4H621V336.6H622V336.6H623V337.4H624V336.2H625V337.9H626V338.0H627V338.5H628V338.6H629V339.8H630V339.7H631V338.0H632V337.5H633V336.9H634V336.7H635V336.5H636V338.6H637V339.8H638V338.7H639V338.6H640V338.6H641V339.3H642V340.0H643V338.6H644V339.2H645V338.9H646V340.7H647V339.3H648V339.2H649V339.6H650V340.1H651V338.6H652V340.8H653V341.3H654V340.8H655V340.7H656V340.8H657V340.5H658V341.3H659V341.6H660V341.3H661V340.7H662V342.0H663V341.9H664V340.1H665V341.4H666V342.1H667V340.7H668V340.4H669V340.2H670V340.8H671V341.0H672V342.6H673V342.4H674V342.2H675V343.1H676V342.7H677V342.7H678V344.3H679V343.8H680V343.7H681V343.4H682V344.0H683V346.9H684V347.2H685V345.8H686V347.0H687V346.4H688V347.5H689V347.8H690V348.4H691V347.6H692V347.2H693V346.9H694V347.2H695V344.9H696V346.1H697V346.0H698V348.1H699V346.7H700V346.6H701V347.3H702V348.3H703V348.9H704V348.1H705V347.7H706V347.8H707V347.2H708V348.1H709V348.0H710V349.0H711V350.1H712V347.7H713V349.0H714V349.6H715V348.9H716V349.6H717V350.2H718V350.0H719V350.4H720V350.4H721V349.9H722V350.7H723V351.6H724V351.0H725V352.1H726V352.0H727V351.7H728V352.4H729V350.6H730V351.1H731V351.9H732V351.4H733V353.9H734V354.1H735V354.2H736V353.7H737V353.3H738V353.1H739V354.3H740V354.2H741V353.7H742V354.6H743V354.3H744V355.2H745V354.3H746V354.4H747V353.1H748V354.3H749V354.0H750V355.0H751V355.3H752V354.5H753V354.1H754V355.6H755V355.0H756V354.9H757V355.0H758V356.2H759V355.7H760V354.7H761V353.9H762V353.8H763V354.7H764V355.7H765V355.6H766V355.7H767V356.1H768V356.7H769V355.4H770V355.6H771V356.0H772V356.9H773V355.5H774V356.3H775V358.1H776V358.1H777V357.5H778V358.4H779V359.3H780V357.4H781V357.9H782V357.7H783V358.7H784V358.3H785V359.2H786V359.6H787V357.7H788V358.5H789V357.7H790V359.0H791V359.7H792V359.8H793V359.0H794V359.1H795V361.2H796V362.7H797V361.4H798V360.5H799V360.0H800V360.1H801V360.1H802V359.5H803V359.2H804V361.2H805V361.4H806V361.2H807V361.0H808V361.5H809V361.4H810V361.2H811V362.3H812V361.1H813V361.9H814V361.8H815V362.2H816V364.1H817V361.5H818V362.5H819V364.1H820V364.4H821V363.7H822V361.8H823V362.9H824V362.0H825V364.0H826V363.0H827V362.8H828V363.1H829V363.2H830V362.6H831V363.3H832V362.4H833V363.0H834V362.8H835V362.7H836V362.0H837V361.7H838V362.9H839V361.4H840V361.2H841V360.5H842V363.7H843V361.0H844V361.6H845V361.2H846V361.5H847V361.1H848V363.7H849V362.3H850V361.4H851V362.5H852V363.3H853V363.7H854V369.4V369.4H853V371.3H852V369.1H851V368.7H850V369.7H849V370.4H848V368.7H847V368.5H846V367.4H845V367.5H844V368.5H843V369.3H842V368.5H841V368.0H840V368.7H839V369.7H838V368.5H837V369.8H836V370.4H835V370.5H834V369.2H833V369.0H832V370.8H831V369.6H830V369.2H829V368.7H828V368.7H827V369.7H826V369.6H825V369.1H824V369.5H823V368.7H822V370.3H821V369.8H820V369.6H819V368.6H818V368.7H817V370.2H816V368.4H815V368.9H814V368.6H813V367.5H812V368.3H811V367.6H810V367.1H809V366.8H808V367.5H807V367.9H806V367.2H805V367.5H804V366.4H803V366.0H802V365.4H801V366.5H800V366.0H799V366.8H798V367.4H797V368.0H796V365.8H795V364.8H794V365.8H793V365.9H792V365.7H791V365.6H790V365.2H789V365.8H788V365.6H787V365.9H786V364.7H785V364.5H784V365.5H783V365.4H782V364.3H781V364.2H780V364.7H779V365.7H778V366.1H777V364.8H776V362.9H775V363.1H774V363.3H773V363.3H772V362.9H771V364.3H770V363.2H769V363.1H768V362.5H767V362.4H766V362.0H765V361.7H764V360.6H763V360.6H762V361.3H761V362.5H760V362.5H759V362.6H758V361.7H757V360.7H756V360.7H755V361.4H754V360.8H753V361.1H752V361.4H751V361.7H750V360.9H749V361.7H748V361.6H747V361.3H746V360.5H745V361.9H744V360.6H743V361.4H742V361.5H741V360.4H740V361.2H739V360.0H738V360.9H737V360.1H736V361.3H735V360.7H734V359.1H733V357.9H732V358.7H731V358.4H730V358.0H729V358.5H728V357.7H727V357.5H726V357.4H725V357.4H724V356.6H723V357.2H722V358.1H721V357.6H720V357.1H719V356.7H718V356.0H717V356.2H716V356.2H715V357.2H714V356.2H713V354.5H712V354.8H711V355.1H710V355.5H709V354.6H708V355.4H707V354.4H706V354.1H705V354.5H704V355.4H703V355.0H702V355.6H701V355.4H700V355.1H699V353.9H698V353.2H697V352.6H696V352.1H695V352.4H694V352.5H693V352.9H692V353.0H691V354.6H690V353.8H689V351.6H688V352.7H687V352.5H686V352.6H685V354.7H684V353.3H683V352.6H682V350.8H681V351.2H680V351.1H679V350.4H678V350.7H677V350.0H676V349.4H675V349.6H674V348.7H673V350.0H672V348.2H671V348.5H670V347.8H669V346.7H668V347.4H667V348.5H666V348.0H665V347.3H664V349.2H663V348.3H662V347.4H661V347.5H660V346.9H659V347.9H658V347.4H657V347.7H656V348.2H655V347.0H654V347.4H653V346.9H652V346.6H651V347.2H650V346.6H649V347.7H648V345.4H647V347.1H646V345.9H645V346.8H644V346.4H643V346.9H642V346.3H641V346.5H640V346.3H639V345.3H638V345.3H637V344.9H636V343.7H635V344.2H634V343.5H633V345.0H632V345.5H631V344.9H630V345.9H629V345.3H628V345.3H627V345.0H626V344.3H625V343.6H624V344.2H623V344.3H622V343.5H621V343.5H620V343.2H619V343.6H618V344.9H617V343.4H616V342.3H615V342.5H614V341.5H613V341.4H612V341.6H611V341.9H610V341.8H609V340.1H608V339.9H607V340.4H606V340.6H605V340.8H604V339.0H603V339.5H602V339.0H601V339.4H600V338.3H599V338.4H598V337.5H597V339.1H596V337.9H595V337.6H594V335.3H593V337.2H592V336.8H591V337.0H590V337.6H589V337.4H588V338.1H587V337.1H586V337.0H585V336.4H584V336.3H583V336.0H582V335.3H581V335.5H580V334.6H579V334.0H578V333.5H577V333.7H576V332.7H575V332.9H574V333.3H573V331.4H572V332.1H571V332.1H570V331.6H569V331.6H568V331.3H567V331.3H566V331.3H565V330.6H564V329.7H563V329.1H562V328.8H561V330.2H560V330.9H559V330.0H558V329.6H557V329.2H556V327.9H555V327.2H554V327.2H553V325.6H552V325.0H551V325.8H550V326.0H549V325.2H548V325.4H547V326.5H546V325.9H545V325.6H544V324.4H543V322.8H542V322.9H541V322.4H540V323.8H539V323.6H538V322.4H537V322.0H536V322.0H535V321.0H534V319.1H533V318.8H532V320.6H531V319.2H530V317.8H529V317.0H528V317.5H527V317.2H526V315.1H525V314.6H524V313.6H523V315.1H522V313.4H521V312.2H520V310.8H519V310.6H518V310.1H517V309.8H516V308.5H515V307.6H514V309.0H513V307.7H512V307.2H511V306.4H510V306.7H509V305.6H508V302.9H507V304.9H506V306.5H505V305.7H504V307.0H503V306.8H502V309.8H501V309.4H500V310.5H499V310.9H498V312.4H497V313.8H496V315.2H495V315.7H494V316.2H493V317.3H492V317.3H491V320.3H490V320.1H489V320.6H488V321.6H487V322.1H486V323.7H485V322.9H484V324.5H483V324.5H482V326.6H481V329.2H480V329.2H479V329.4H478V330.1H477V331.5H476V332.7H475V335.2H474V336.3H473V336.6H472V335.8H471V337.5H470V338.7H469V339.6H468V341.8H467V342.8H466V343.0H465V345.1H464V344.6H463V345.6H462V347.1H461V346.7H460V347.3H459V347.1H458V348.6H457V349.9H456V350.9H455V351.6H454V353.1H453V355.4H452V357.4H451V357.8H450V358.5H449V358.7H448V360.7H447V363.5H446V362.8H445V363.1H444V365.9H443V365.6H442V366.9H441V369.2H440V368.6H439V369.4H438V371.5H437V373.3H436V374.2H435V373.7H434V375.4H433V377.0H432V379.1H431V379.0H430V381.0H429V381.3H428V382.1H427V383.2H426V384.4H425V386.2H424V386.9H423V387.4H422V389.1H421V389.6H420V389.5H419V392.7H418V394.6H417V395.7H416V397.7H415V398.2H414V398.8H413V399.1H412V400.1H411V401.1H410V402.4H409V403.9H408V406.1H407V407.3H406V407.9H405V407.6H404V408.9H403V410.4H402V412.8H401V414.7H400V414.5H399V416.8H398V417.9H397V417.7H396V419.8H395V420.1H394V422.8H393V423.5H392V425.5H391V426.3H390V427.9H389V430.2H388V430.0H387V432.3H386V433.8H385V435.1H384V435.8H383V437.3H382V438.0H381V440.0H380V440.1H379V441.6H378V443.2H377V444.5H376V446.5H375V448.0H374V449.9H373V451.0H372V452.7H371V453.5H370V454.3H369V457.0H368V458.4H367V458.8H366V460.4H365V462.3H364V463.9H363V466.0H362V468.4H361V469.5H360V469.6H359V471.6H358V473.3H357V475.7H356V477.2H355V478.3H354V479.1H353V480.0H352V481.8H351V483.0H350V484.1H349V487.8H348V488.1H347V490.5H346V492.8H345V492.8H344V493.3H343V496.3H342V498.5H341V499.8H340V502.0H339V502.6H338V503.6H337V506.6H336V508.4H335V509.9H334V511.4H333V514.4H332V514.8H331V516.4H330V516.9H329V520.2H328V521.4H327V522.5H326V526.2H325V527.7H324V528.5H323V529.9H322V531.4H321V534.3H320V535.0H319V536.4H318V538.9H317V541.1H316V544.0H315V545.6H314V547.3H313V548.2H312V549.8H311V551.4H310V554.4H309V555.4H308V555.8H307V559.2H306V562.6H305V563.4H304V564.4H303V566.9H302V568.5H301V569.8H300V572.3H299V573.1H298V576.2H297V577.0H296V580.6H295V583.1H294V585.1H293V586.3H292V589.2H291V590.6H290V592.7H289V594.1H288V595.8H287V598.9H286V600.4H285V604.1H284V606.2H283V606.7H282V609.9H281V610.9H280V612.3H279V614.2H278V617.3H277V619.7H276V622.0H275V623.6H274V625.5H273V627.7H272V629.5H271V632.9H270V634.6H269V638.7H268V639.1H267V640.8H266V643.1H265V645.8H264V649.3H263V650.3H262V653.1H261V655.0H260V657.4H259V659.6H258V662.2H257V663.5H256V665.3H255V668.7H254V670.4H253V672.9H252V675.1H251V677.2H250V679.9H249V682.8H248V685.8H247V687.6H246V690.6H245V693.8H244V694.8H243V697.5H242V699.4H241V703.9H240V705.8H239V708.6H238V710.0H237V711.9H236V715.8H235V717.4H234V720.6H233V724.1H232V725.7H231V727.6H230V731.4H229V733.6H228V736.6H227V739.3H226V741.9H225V744.8H224V747.3H223V749.4H222V752.4H221V754.9H220V757.6H219V761.2H218V763.6H217V767.2H216V769.4H215V772.5H214V774.9H213V779.1H212V781.3H211V783.5H210V786.5H209V789.2H208V791.9H207V794.7H206V797.2H205V798.8H204V802.5H203V805.3H202V809.8H201V812.3H200V815.9H199V818.9H198V822.6H197V825.2H196V829.6H195V831.9H194V834.7H193V836.5H192V840.4H191V843.1H190V846.2H189V849.0H188V853.5H187V856.2H186V857.0H185V857.0H184Z"/>
<rect x="508.0" y="270.8" width="2.4" height="61.2" fill="#a9abae"/>
<rect x="784.9" y="332.7" width="3.0" height="59.3" fill="#a9abae"/>
<rect x="789.2" y="335.3" width="2.8" height="78.7" fill="#a9abae"/>
<path fill="#55a826" d="M177.6,857 L180,853.2 L182,853.2 L182,857 Z"/>
<rect x="181.4" y="846" width="1.8" height="10.5" fill="#a9abae"/>
</g>
<g fill="#1a1a1a">
<rect x="99.9" y="182.5" width="3" height="676.4"/>
<rect x="91.4" y="855.8" width="829.5" height="3.1"/>
<rect x="91.4" y="182.45" width="10" height="2.9"/>
<rect x="91.4" y="254.55" width="10" height="2.9"/>
<rect x="91.4" y="329.85" width="10" height="2.9"/>
<rect x="91.4" y="405.05" width="10" height="2.9"/>
<rect x="91.4" y="480.25" width="10" height="2.9"/>
<rect x="91.4" y="555.55" width="10" height="2.9"/>
<rect x="91.4" y="630.75" width="10" height="2.9"/>
<rect x="91.4" y="705.95" width="10" height="2.9"/>
<rect x="91.4" y="781.15" width="10" height="2.9"/>
<rect x="99.90" y="856" width="3" height="11.4"/>
<rect x="372.50" y="856" width="3" height="11.4"/>
<rect x="645.20" y="856" width="3" height="11.4"/>
<rect x="917.80" y="856" width="3" height="11.4"/>
</g>
<g font-family="Liberation Sans, sans-serif" fill="#1a1a1a" stroke="#1a1a1a" stroke-width="0.3">
<text id="yl90" stroke="none" transform="translate(81.0,192.89999999999998) scale(0.9576,1)" text-anchor="end" font-size="29.8">90</text>
<text id="yl80" stroke="none" transform="translate(81.0,268.09999999999997) scale(0.9576,1)" text-anchor="end" font-size="29.8">80</text>
<text id="yl70" stroke="none" transform="translate(81.0,343.5) scale(0.9576,1)" text-anchor="end" font-size="29.8">70</text>
<text id="yl60" stroke="none" transform="translate(81.0,418.7) scale(0.9576,1)" text-anchor="end" font-size="29.8">60</text>
<text id="yl50" stroke="none" transform="translate(81.0,493.9) scale(0.9576,1)" text-anchor="end" font-size="29.8">50</text>
<text id="yl40" stroke="none" transform="translate(81.0,569.2) scale(0.9576,1)" text-anchor="end" font-size="29.8">40</text>
<text id="yl30" stroke="none" transform="translate(81.0,644.4000000000001) scale(0.9576,1)" text-anchor="end" font-size="29.8">30</text>
<text id="yl20" stroke="none" transform="translate(81.0,719.6) scale(0.9576,1)" text-anchor="end" font-size="29.8">20</text>
<text id="yl10" stroke="none" transform="translate(81.0,794.8000000000001) scale(0.9576,1)" text-anchor="end" font-size="29.8">10</text>
<text id="yl0" stroke="none" transform="translate(81.0,869.2) scale(0.9576,1)" text-anchor="end" font-size="29.8">0</text>
<text id="xl0" stroke="none" transform="translate(101.0,902.0) scale(0.9576,1)" text-anchor="middle" font-size="29.8">0</text>
<text id="xl500" stroke="none" transform="translate(374.3,902.0) scale(0.9576,1)" text-anchor="middle" font-size="29.8">500</text>
<text id="xl1000" stroke="none" transform="translate(647.2,902.0) scale(0.9336599999999999,1)" text-anchor="middle" font-size="29.8">1000</text>
<text id="xl1500" stroke="none" transform="translate(919.3,902.0) scale(0.9336599999999999,1)" text-anchor="middle" font-size="29.8">1500</text>
<text id="xlabel" transform="translate(458.0,947.0) scale(0.967,1)" text-anchor="start" font-size="29.5">Time (s)</text>
<text id="ylabel" transform="translate(20.6,668.6) rotate(-90) scale(0.967,1)" font-size="29.5">Relative response (RU)</text>
<text  transform="translate(662.9,24.3) scale(0.967,1)" text-anchor="start" font-size="29.5">Neupogen</text>
<ellipse cx="802.6" cy="6.9" rx="6.6" ry="6.2" fill="none" stroke-width="1.05"/>
<text x="802.6" y="10.7" text-anchor="middle" font-size="10.6" stroke-width="0.25">R</text>
<text  transform="translate(819.2,24.3) scale(0.9457,1)" text-anchor="start" font-size="29.5">(batch N2)</text>
<text  transform="translate(662.9,58.4) scale(0.967,1)" text-anchor="start" font-size="29.5">Neupogen</text>
<ellipse cx="802.6" cy="41.0" rx="6.6" ry="6.2" fill="none" stroke-width="1.05"/>
<text x="802.6" y="44.8" text-anchor="middle" font-size="10.6" stroke-width="0.25">R</text>
<text  transform="translate(819.2,58.4) scale(0.9457,1)" text-anchor="start" font-size="29.5">(batch N3)</text>
<text  transform="translate(662.9,92.7) scale(0.967,1)" text-anchor="start" font-size="29.5">Neupogen</text>
<ellipse cx="802.6" cy="75.3" rx="6.6" ry="6.2" fill="none" stroke-width="1.05"/>
<text x="802.6" y="79.1" text-anchor="middle" font-size="10.6" stroke-width="0.25">R</text>
<text  transform="translate(819.2,92.7) scale(0.9457,1)" text-anchor="start" font-size="29.5">(batch N4)</text>
<text  transform="translate(663.7,127.4) scale(0.967,1)" text-anchor="start" font-size="29.5">Zarzio</text>
<ellipse cx="750.5" cy="110.0" rx="6.6" ry="6.2" fill="none" stroke-width="1.05"/>
<text x="750.5" y="113.8" text-anchor="middle" font-size="10.6" stroke-width="0.25">R</text>
<text  transform="translate(767.2,127.4) scale(0.9589398,1)" text-anchor="start" font-size="29.5">(batch DS2)</text>
<text  transform="translate(663.7,161.1) scale(0.967,1)" text-anchor="start" font-size="29.5">Zarzio</text>
<ellipse cx="750.5" cy="143.7" rx="6.6" ry="6.2" fill="none" stroke-width="1.05"/>
<text x="750.5" y="147.5" text-anchor="middle" font-size="10.6" stroke-width="0.25">R</text>
<text  transform="translate(767.2,161.1) scale(0.9589398,1)" text-anchor="start" font-size="29.5">(batch DS3)</text>
<text  transform="translate(663.7,195.8) scale(0.967,1)" text-anchor="start" font-size="29.5">Zarzio</text>
<ellipse cx="750.5" cy="178.4" rx="6.6" ry="6.2" fill="none" stroke-width="1.05"/>
<text x="750.5" y="182.2" text-anchor="middle" font-size="10.6" stroke-width="0.25">R</text>
<text  transform="translate(767.2,195.8) scale(0.9589398,1)" text-anchor="start" font-size="29.5">(batch DS4)</text>
</g>
<g stroke-linecap="round" stroke-width="2.8">
<line x1="587" y1="15.4" x2="641.4" y2="15.4" stroke="#1d3f7c"/>
<line x1="587" y1="49.4" x2="641.4" y2="49.4" stroke="#2e7bc0"/>
<line x1="587" y1="84.4" x2="641.4" y2="84.4" stroke="#55a826"/>
<line x1="587" y1="118.9" x2="641.4" y2="118.9" stroke="#f5a023"/>
<line x1="587" y1="154.4" x2="641.4" y2="154.4" stroke="#e2591a"/>
<line x1="587" y1="188.4" x2="641.4" y2="188.4" stroke="#a9abae"/>
</g>
</svg>
</body></html>
